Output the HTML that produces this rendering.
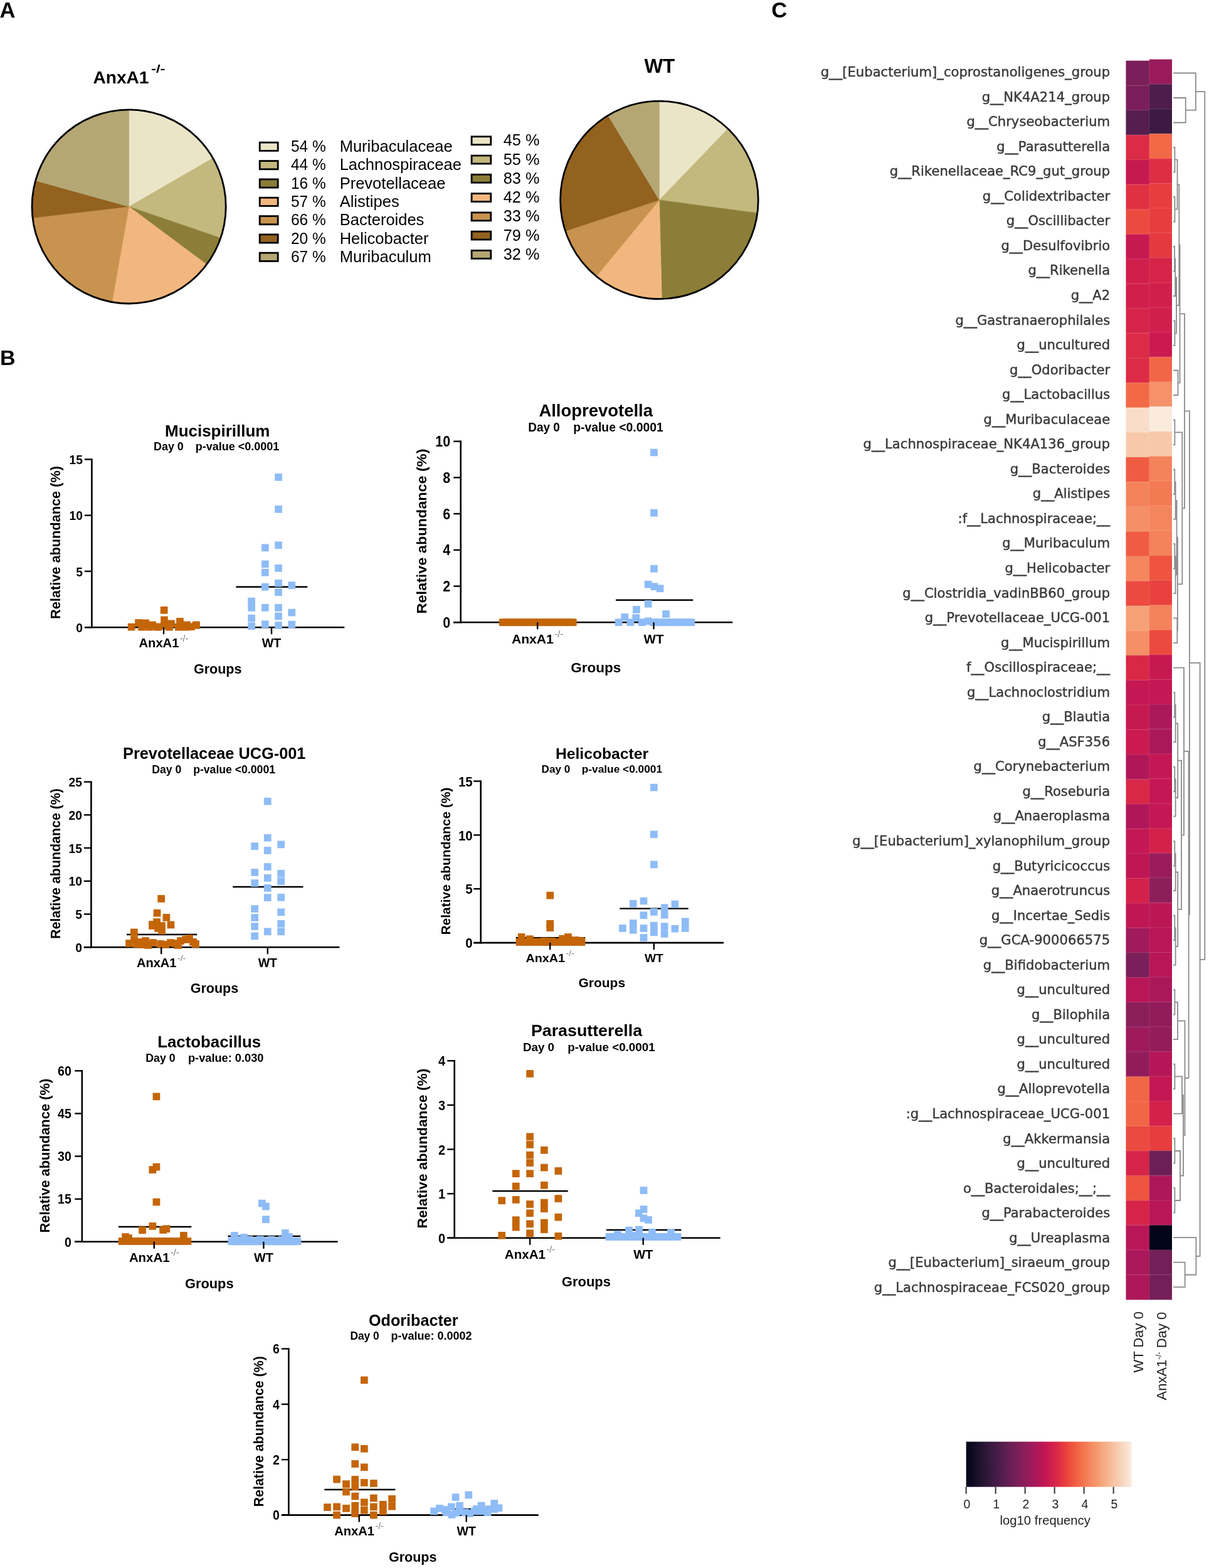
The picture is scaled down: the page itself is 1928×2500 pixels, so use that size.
<!DOCTYPE html>
<html><head><meta charset="utf-8"><title>Figure</title>
<style>html,body{margin:0;padding:0;background:#fff;}svg{display:block;}</style></head>
<body><svg width="1928" height="2500" viewBox="0 0 1928 2500">
<rect width="1928" height="2500" fill="#fff"/>
<text x="-0.6" y="27.9" font-size="34.50" font-weight="bold" text-anchor="start" fill="#000" font-family="'Liberation Sans', Arial, sans-serif">A</text>
<text x="0.1" y="581.8" font-size="34.00" font-weight="bold" text-anchor="start" fill="#000" font-family="'Liberation Sans', Arial, sans-serif">B</text>
<text x="1230.3" y="28.1" font-size="34.50" font-weight="bold" text-anchor="start" fill="#000" font-family="'Liberation Sans', Arial, sans-serif">C</text>
<path d="M205.60 329.40 L205.60 174.80 A154.60 154.60 0 0 1 339.49 252.10 Z" fill="#ebe5c8" stroke="#ebe5c8" stroke-width="0.6"/>
<path d="M205.60 329.40 L339.49 252.10 A154.60 154.60 0 0 1 351.87 379.45 Z" fill="#c3b87d" stroke="#c3b87d" stroke-width="0.6"/>
<path d="M205.60 329.40 L351.87 379.45 A154.60 154.60 0 0 1 329.61 421.72 Z" fill="#8c7e38" stroke="#8c7e38" stroke-width="0.6"/>
<path d="M205.60 329.40 L329.61 421.72 A154.60 154.60 0 0 1 178.75 481.65 Z" fill="#f2b77e" stroke="#f2b77e" stroke-width="0.6"/>
<path d="M205.60 329.40 L178.75 481.65 A154.60 154.60 0 0 1 52.05 347.35 Z" fill="#c8934f" stroke="#c8934f" stroke-width="0.6"/>
<path d="M205.60 329.40 L52.05 347.35 A154.60 154.60 0 0 1 56.66 287.94 Z" fill="#93621f" stroke="#93621f" stroke-width="0.6"/>
<path d="M205.60 329.40 L56.66 287.94 A154.60 154.60 0 0 1 205.60 174.80 Z" fill="#b4a774" stroke="#b4a774" stroke-width="0.6"/>
<circle cx="205.60" cy="329.40" r="154.60" fill="none" stroke="#000" stroke-width="2.8"/>
<path d="M1051.40 318.90 L1051.40 161.10 A157.80 157.80 0 0 1 1160.82 205.20 Z" fill="#ebe5c8" stroke="#ebe5c8" stroke-width="0.6"/>
<path d="M1051.40 318.90 L1160.82 205.20 A157.80 157.80 0 0 1 1207.83 339.66 Z" fill="#c3b87d" stroke="#c3b87d" stroke-width="0.6"/>
<path d="M1051.40 318.90 L1207.83 339.66 A157.80 157.80 0 0 1 1055.43 476.65 Z" fill="#8c7e38" stroke="#8c7e38" stroke-width="0.6"/>
<path d="M1051.40 318.90 L1055.43 476.65 A157.80 157.80 0 0 1 951.00 440.64 Z" fill="#f2b77e" stroke="#f2b77e" stroke-width="0.6"/>
<path d="M1051.40 318.90 L951.00 440.64 A157.80 157.80 0 0 1 901.57 368.43 Z" fill="#c8934f" stroke="#c8934f" stroke-width="0.6"/>
<path d="M1051.40 318.90 L901.57 368.43 A157.80 157.80 0 0 1 969.61 183.95 Z" fill="#93621f" stroke="#93621f" stroke-width="0.6"/>
<path d="M1051.40 318.90 L969.61 183.95 A157.80 157.80 0 0 1 1051.40 161.10 Z" fill="#b4a774" stroke="#b4a774" stroke-width="0.6"/>
<circle cx="1051.40" cy="318.90" r="157.80" fill="none" stroke="#000" stroke-width="2.8"/>
<text x="148.5" y="133" font-size="28" font-weight="bold" font-family="'Liberation Sans', Arial, sans-serif" textLength="89" lengthAdjust="spacingAndGlyphs">AnxA1</text>
<text x="241.0" y="116.3" font-size="18.00" font-weight="bold" text-anchor="start" fill="#000" font-family="'Liberation Sans', Arial, sans-serif" textLength="22.5" lengthAdjust="spacingAndGlyphs">-/-</text>
<text x="1051.8" y="116.4" font-size="30.50" font-weight="bold" text-anchor="middle" fill="#000" font-family="'Liberation Sans', Arial, sans-serif" textLength="48.8" lengthAdjust="spacingAndGlyphs">WT</text>
<rect x="414.2" y="227.2" width="29.0" height="13.2" fill="#ebe5c8" stroke="#000" stroke-width="2.8"/>
<text x="464.0" y="242.1" font-size="25.80" font-weight="normal" text-anchor="start" fill="#000" font-family="'Liberation Sans', Arial, sans-serif" textLength="55.7" lengthAdjust="spacingAndGlyphs">54 %</text>
<text x="541.7" y="242.1" font-size="25.50" font-weight="normal" text-anchor="start" fill="#000" font-family="'Liberation Sans', Arial, sans-serif">Muribaculaceae</text>
<rect x="752.1" y="217.8" width="30.7" height="12.9" fill="#ebe5c8" stroke="#000" stroke-width="2.8"/>
<text x="802.8" y="232.2" font-size="25.80" font-weight="normal" text-anchor="start" fill="#000" font-family="'Liberation Sans', Arial, sans-serif" textLength="57.6" lengthAdjust="spacingAndGlyphs">45 %</text>
<rect x="414.2" y="256.6" width="29.0" height="13.2" fill="#c3b87d" stroke="#000" stroke-width="2.8"/>
<text x="464.0" y="271.4" font-size="25.80" font-weight="normal" text-anchor="start" fill="#000" font-family="'Liberation Sans', Arial, sans-serif" textLength="55.7" lengthAdjust="spacingAndGlyphs">44 %</text>
<text x="541.7" y="271.4" font-size="25.50" font-weight="normal" text-anchor="start" fill="#000" font-family="'Liberation Sans', Arial, sans-serif">Lachnospiraceae</text>
<rect x="752.1" y="248.1" width="30.7" height="12.9" fill="#c3b87d" stroke="#000" stroke-width="2.8"/>
<text x="802.8" y="262.5" font-size="25.80" font-weight="normal" text-anchor="start" fill="#000" font-family="'Liberation Sans', Arial, sans-serif" textLength="57.6" lengthAdjust="spacingAndGlyphs">55 %</text>
<rect x="414.2" y="285.9" width="29.0" height="13.2" fill="#8c7e38" stroke="#000" stroke-width="2.8"/>
<text x="464.0" y="300.8" font-size="25.80" font-weight="normal" text-anchor="start" fill="#000" font-family="'Liberation Sans', Arial, sans-serif" textLength="55.7" lengthAdjust="spacingAndGlyphs">16 %</text>
<text x="541.7" y="300.8" font-size="25.50" font-weight="normal" text-anchor="start" fill="#000" font-family="'Liberation Sans', Arial, sans-serif">Prevotellaceae</text>
<rect x="752.1" y="278.3" width="30.7" height="12.9" fill="#8c7e38" stroke="#000" stroke-width="2.8"/>
<text x="802.8" y="292.7" font-size="25.80" font-weight="normal" text-anchor="start" fill="#000" font-family="'Liberation Sans', Arial, sans-serif" textLength="57.6" lengthAdjust="spacingAndGlyphs">83 %</text>
<rect x="414.2" y="315.2" width="29.0" height="13.2" fill="#f2b77e" stroke="#000" stroke-width="2.8"/>
<text x="464.0" y="330.1" font-size="25.80" font-weight="normal" text-anchor="start" fill="#000" font-family="'Liberation Sans', Arial, sans-serif" textLength="55.7" lengthAdjust="spacingAndGlyphs">57 %</text>
<text x="541.7" y="330.1" font-size="25.50" font-weight="normal" text-anchor="start" fill="#000" font-family="'Liberation Sans', Arial, sans-serif">Alistipes</text>
<rect x="752.1" y="308.6" width="30.7" height="12.9" fill="#f2b77e" stroke="#000" stroke-width="2.8"/>
<text x="802.8" y="323.0" font-size="25.80" font-weight="normal" text-anchor="start" fill="#000" font-family="'Liberation Sans', Arial, sans-serif" textLength="57.6" lengthAdjust="spacingAndGlyphs">42 %</text>
<rect x="414.2" y="344.6" width="29.0" height="13.2" fill="#c8934f" stroke="#000" stroke-width="2.8"/>
<text x="464.0" y="359.4" font-size="25.80" font-weight="normal" text-anchor="start" fill="#000" font-family="'Liberation Sans', Arial, sans-serif" textLength="55.7" lengthAdjust="spacingAndGlyphs">66 %</text>
<text x="541.7" y="359.4" font-size="25.50" font-weight="normal" text-anchor="start" fill="#000" font-family="'Liberation Sans', Arial, sans-serif">Bacteroides</text>
<rect x="752.1" y="338.9" width="30.7" height="12.9" fill="#c8934f" stroke="#000" stroke-width="2.8"/>
<text x="802.8" y="353.3" font-size="25.80" font-weight="normal" text-anchor="start" fill="#000" font-family="'Liberation Sans', Arial, sans-serif" textLength="57.6" lengthAdjust="spacingAndGlyphs">33 %</text>
<rect x="414.2" y="373.9" width="29.0" height="13.2" fill="#93621f" stroke="#000" stroke-width="2.8"/>
<text x="464.0" y="388.8" font-size="25.80" font-weight="normal" text-anchor="start" fill="#000" font-family="'Liberation Sans', Arial, sans-serif" textLength="55.7" lengthAdjust="spacingAndGlyphs">20 %</text>
<text x="541.7" y="388.8" font-size="25.50" font-weight="normal" text-anchor="start" fill="#000" font-family="'Liberation Sans', Arial, sans-serif">Helicobacter</text>
<rect x="752.1" y="369.1" width="30.7" height="12.9" fill="#93621f" stroke="#000" stroke-width="2.8"/>
<text x="802.8" y="383.5" font-size="25.80" font-weight="normal" text-anchor="start" fill="#000" font-family="'Liberation Sans', Arial, sans-serif" textLength="57.6" lengthAdjust="spacingAndGlyphs">79 %</text>
<rect x="414.2" y="403.2" width="29.0" height="13.2" fill="#b4a774" stroke="#000" stroke-width="2.8"/>
<text x="464.0" y="418.1" font-size="25.80" font-weight="normal" text-anchor="start" fill="#000" font-family="'Liberation Sans', Arial, sans-serif" textLength="55.7" lengthAdjust="spacingAndGlyphs">67 %</text>
<text x="541.7" y="418.1" font-size="25.50" font-weight="normal" text-anchor="start" fill="#000" font-family="'Liberation Sans', Arial, sans-serif">Muribaculum</text>
<rect x="752.1" y="399.4" width="30.7" height="12.9" fill="#b4a774" stroke="#000" stroke-width="2.8"/>
<text x="802.8" y="413.8" font-size="25.80" font-weight="normal" text-anchor="start" fill="#000" font-family="'Liberation Sans', Arial, sans-serif" textLength="57.6" lengthAdjust="spacingAndGlyphs">32 %</text>
<text x="346.7" y="695.7" font-size="25.50" font-weight="bold" text-anchor="middle" fill="#000" font-family="'Liberation Sans', Arial, sans-serif" textLength="167.4" lengthAdjust="spacingAndGlyphs">Mucispirillum</text>
<text x="245.0" y="718.1" font-size="18.00" font-weight="bold" text-anchor="start" fill="#000" font-family="'Liberation Sans', Arial, sans-serif" textLength="47.8" lengthAdjust="spacingAndGlyphs">Day 0</text>
<text x="311.7" y="718.1" font-size="18.00" font-weight="bold" text-anchor="start" fill="#000" font-family="'Liberation Sans', Arial, sans-serif" textLength="133.6" lengthAdjust="spacingAndGlyphs">p-value &lt;0.0001</text>
<path d="M146.4 1001.5 V731.2" stroke="#000" stroke-width="2.6" fill="none"/>
<path d="M134.9 1000.2 H549.3" stroke="#000" stroke-width="2.6" fill="none"/>
<line x1="376.4" y1="935.8" x2="490.3" y2="935.8" stroke="#000" stroke-width="2.4"/>
<line x1="205.0" y1="996.0" x2="318.0" y2="996.0" stroke="#000" stroke-width="2.4"/>
<rect x="395.3" y="952.9" width="11.7" height="11.7" fill="#8ebcf6"/>
<rect x="395.3" y="963.1" width="11.7" height="11.7" fill="#8ebcf6"/>
<rect x="395.3" y="979.8" width="11.7" height="11.7" fill="#8ebcf6"/>
<rect x="395.3" y="992.4" width="11.7" height="11.7" fill="#8ebcf6"/>
<rect x="417.0" y="867.4" width="11.7" height="11.7" fill="#8ebcf6"/>
<rect x="417.0" y="893.6" width="11.7" height="11.7" fill="#8ebcf6"/>
<rect x="417.0" y="906.9" width="11.7" height="11.7" fill="#8ebcf6"/>
<rect x="417.0" y="929.9" width="11.7" height="11.7" fill="#8ebcf6"/>
<rect x="417.0" y="963.1" width="11.7" height="11.7" fill="#8ebcf6"/>
<rect x="417.0" y="989.4" width="11.7" height="11.7" fill="#8ebcf6"/>
<rect x="438.2" y="755.0" width="11.7" height="11.7" fill="#8ebcf6"/>
<rect x="438.2" y="806.0" width="11.7" height="11.7" fill="#8ebcf6"/>
<rect x="438.2" y="863.5" width="11.7" height="11.7" fill="#8ebcf6"/>
<rect x="438.2" y="900.0" width="11.7" height="11.7" fill="#8ebcf6"/>
<rect x="438.2" y="924.0" width="11.7" height="11.7" fill="#8ebcf6"/>
<rect x="438.2" y="938.4" width="11.7" height="11.7" fill="#8ebcf6"/>
<rect x="438.2" y="963.1" width="11.7" height="11.7" fill="#8ebcf6"/>
<rect x="438.2" y="976.6" width="11.7" height="11.7" fill="#8ebcf6"/>
<rect x="438.2" y="991.1" width="11.7" height="11.7" fill="#8ebcf6"/>
<rect x="459.4" y="927.4" width="11.7" height="11.7" fill="#8ebcf6"/>
<rect x="459.4" y="970.8" width="11.7" height="11.7" fill="#8ebcf6"/>
<rect x="459.4" y="989.9" width="11.7" height="11.7" fill="#8ebcf6"/>
<rect x="203.8" y="993.8" width="11.7" height="11.7" fill="#c46507"/>
<rect x="215.2" y="987.1" width="11.7" height="11.7" fill="#c46507"/>
<rect x="226.2" y="987.6" width="11.7" height="11.7" fill="#c46507"/>
<rect x="237.2" y="990.6" width="11.7" height="11.7" fill="#c46507"/>
<rect x="220.2" y="993.9" width="11.7" height="11.7" fill="#c46507"/>
<rect x="232.2" y="993.9" width="11.7" height="11.7" fill="#c46507"/>
<rect x="244.2" y="993.6" width="11.7" height="11.7" fill="#c46507"/>
<rect x="246.2" y="993.9" width="11.7" height="11.7" fill="#c46507"/>
<rect x="256.1" y="982.6" width="11.7" height="11.7" fill="#c46507"/>
<rect x="256.1" y="992.1" width="11.7" height="11.7" fill="#c46507"/>
<rect x="267.1" y="988.6" width="11.7" height="11.7" fill="#c46507"/>
<rect x="264.1" y="993.9" width="11.7" height="11.7" fill="#c46507"/>
<rect x="281.1" y="985.1" width="11.7" height="11.7" fill="#c46507"/>
<rect x="279.1" y="993.9" width="11.7" height="11.7" fill="#c46507"/>
<rect x="290.1" y="993.9" width="11.7" height="11.7" fill="#c46507"/>
<rect x="292.1" y="990.6" width="11.7" height="11.7" fill="#c46507"/>
<rect x="299.1" y="993.4" width="11.7" height="11.7" fill="#c46507"/>
<rect x="307.1" y="991.1" width="11.7" height="11.7" fill="#c46507"/>
<rect x="306.8" y="990.6" width="11.7" height="11.7" fill="#c46507"/>
<rect x="255.8" y="967.0" width="11.7" height="11.7" fill="#c46507"/>
<path d="M134.9 1000.2 H146.4" stroke="#000" stroke-width="2.4" fill="none"/>
<text transform="translate(131.9 1007.8) scale(1 1.100)" font-size="19.20" font-weight="bold" text-anchor="end" font-family="'Liberation Sans', Arial, sans-serif">0</text>
<path d="M134.9 910.9 H146.4" stroke="#000" stroke-width="2.4" fill="none"/>
<text transform="translate(131.9 918.5) scale(1 1.100)" font-size="19.20" font-weight="bold" text-anchor="end" font-family="'Liberation Sans', Arial, sans-serif">5</text>
<path d="M134.9 821.7 H146.4" stroke="#000" stroke-width="2.4" fill="none"/>
<text transform="translate(131.9 829.3) scale(1 1.100)" font-size="19.20" font-weight="bold" text-anchor="end" font-family="'Liberation Sans', Arial, sans-serif">10</text>
<path d="M134.9 732.4 H146.4" stroke="#000" stroke-width="2.4" fill="none"/>
<text transform="translate(131.9 740.0) scale(1 1.100)" font-size="19.20" font-weight="bold" text-anchor="end" font-family="'Liberation Sans', Arial, sans-serif">15</text>
<path d="M261.0 1000.2 V1011.2" stroke="#000" stroke-width="2.4" fill="none"/>
<path d="M433.0 1000.2 V1011.2" stroke="#000" stroke-width="2.4" fill="none"/>
<text x="221.5" y="1032.4" font-size="19.60" font-weight="bold" text-anchor="start" fill="#000" font-family="'Liberation Sans', Arial, sans-serif" textLength="63.9" lengthAdjust="spacingAndGlyphs">AnxA1</text>
<text x="286.9" y="1022.6" font-size="13.72" font-weight="normal" text-anchor="start" fill="#777" font-family="'Liberation Sans', Arial, sans-serif" textLength="13.4" lengthAdjust="spacingAndGlyphs">-/-</text>
<text x="433.0" y="1032.4" font-size="19.60" font-weight="bold" text-anchor="middle" fill="#000" font-family="'Liberation Sans', Arial, sans-serif">WT</text>
<text x="347.2" y="1074.4" font-size="21.50" font-weight="bold" text-anchor="middle" fill="#000" font-family="'Liberation Sans', Arial, sans-serif">Groups</text>
<text transform="translate(96.4 865.0) rotate(-90)" x="0" y="0" font-size="21.6" font-weight="bold" text-anchor="middle" font-family="'Liberation Sans', Arial, sans-serif" textLength="244.0" lengthAdjust="spacingAndGlyphs">Relative abundance (%)</text>
<text x="950.2" y="663.5" font-size="27.00" font-weight="bold" text-anchor="middle" fill="#000" font-family="'Liberation Sans', Arial, sans-serif" textLength="181.6" lengthAdjust="spacingAndGlyphs">Alloprevotella</text>
<text x="842.3" y="687.7" font-size="19.30" font-weight="bold" text-anchor="start" fill="#000" font-family="'Liberation Sans', Arial, sans-serif" textLength="50.6" lengthAdjust="spacingAndGlyphs">Day 0</text>
<text x="914.2" y="687.7" font-size="19.30" font-weight="bold" text-anchor="start" fill="#000" font-family="'Liberation Sans', Arial, sans-serif" textLength="143.6" lengthAdjust="spacingAndGlyphs">p-value &lt;0.0001</text>
<path d="M734.7 993.6 V702.5" stroke="#000" stroke-width="2.6" fill="none"/>
<path d="M723.2 992.3 H1168.3" stroke="#000" stroke-width="2.6" fill="none"/>
<line x1="982.0" y1="956.7" x2="1105.2" y2="956.7" stroke="#000" stroke-width="2.4"/>
<rect x="1037.1" y="715.6" width="11.7" height="11.7" fill="#8ebcf6"/>
<rect x="1037.1" y="811.9" width="11.7" height="11.7" fill="#8ebcf6"/>
<rect x="1037.1" y="900.9" width="11.7" height="11.7" fill="#8ebcf6"/>
<rect x="1027.8" y="925.9" width="11.7" height="11.7" fill="#8ebcf6"/>
<rect x="1037.8" y="929.4" width="11.7" height="11.7" fill="#8ebcf6"/>
<rect x="1046.7" y="932.4" width="11.7" height="11.7" fill="#8ebcf6"/>
<rect x="1027.8" y="956.9" width="11.7" height="11.7" fill="#8ebcf6"/>
<rect x="1009.1" y="966.1" width="11.7" height="11.7" fill="#8ebcf6"/>
<rect x="1056.2" y="973.2" width="11.7" height="11.7" fill="#8ebcf6"/>
<rect x="990.4" y="978.2" width="11.7" height="11.7" fill="#8ebcf6"/>
<rect x="1008.4" y="979.4" width="11.7" height="11.7" fill="#8ebcf6"/>
<rect x="980.8" y="986.4" width="11.7" height="11.7" fill="#8ebcf6"/>
<rect x="999.6" y="986.4" width="11.7" height="11.7" fill="#8ebcf6"/>
<rect x="1018.1" y="986.4" width="11.7" height="11.7" fill="#8ebcf6"/>
<rect x="1027.8" y="984.6" width="11.7" height="11.7" fill="#8ebcf6"/>
<rect x="1036.0" y="986.4" width="11.7" height="11.7" fill="#8ebcf6"/>
<rect x="1041.5" y="986.4" width="11.7" height="11.7" fill="#8ebcf6"/>
<rect x="1047.0" y="986.4" width="11.7" height="11.7" fill="#8ebcf6"/>
<rect x="1052.5" y="986.4" width="11.7" height="11.7" fill="#8ebcf6"/>
<rect x="1058.0" y="986.4" width="11.7" height="11.7" fill="#8ebcf6"/>
<rect x="1063.5" y="986.4" width="11.7" height="11.7" fill="#8ebcf6"/>
<rect x="1069.0" y="986.4" width="11.7" height="11.7" fill="#8ebcf6"/>
<rect x="1074.5" y="986.4" width="11.7" height="11.7" fill="#8ebcf6"/>
<rect x="1080.0" y="986.4" width="11.7" height="11.7" fill="#8ebcf6"/>
<rect x="1085.5" y="986.4" width="11.7" height="11.7" fill="#8ebcf6"/>
<rect x="1091.0" y="986.4" width="11.7" height="11.7" fill="#8ebcf6"/>
<rect x="1096.6" y="986.4" width="11.7" height="11.7" fill="#8ebcf6"/>
<rect x="795.9" y="986.4" width="11.7" height="11.7" fill="#c46507"/>
<rect x="800.8" y="986.4" width="11.7" height="11.7" fill="#c46507"/>
<rect x="805.7" y="986.4" width="11.7" height="11.7" fill="#c46507"/>
<rect x="810.6" y="986.4" width="11.7" height="11.7" fill="#c46507"/>
<rect x="815.4" y="986.4" width="11.7" height="11.7" fill="#c46507"/>
<rect x="820.3" y="986.4" width="11.7" height="11.7" fill="#c46507"/>
<rect x="825.2" y="986.4" width="11.7" height="11.7" fill="#c46507"/>
<rect x="830.0" y="986.4" width="11.7" height="11.7" fill="#c46507"/>
<rect x="834.9" y="986.4" width="11.7" height="11.7" fill="#c46507"/>
<rect x="839.8" y="986.4" width="11.7" height="11.7" fill="#c46507"/>
<rect x="844.6" y="986.4" width="11.7" height="11.7" fill="#c46507"/>
<rect x="849.5" y="986.4" width="11.7" height="11.7" fill="#c46507"/>
<rect x="854.4" y="986.4" width="11.7" height="11.7" fill="#c46507"/>
<rect x="859.3" y="986.4" width="11.7" height="11.7" fill="#c46507"/>
<rect x="864.1" y="986.4" width="11.7" height="11.7" fill="#c46507"/>
<rect x="869.0" y="986.4" width="11.7" height="11.7" fill="#c46507"/>
<rect x="873.9" y="986.4" width="11.7" height="11.7" fill="#c46507"/>
<rect x="878.7" y="986.4" width="11.7" height="11.7" fill="#c46507"/>
<rect x="883.6" y="986.4" width="11.7" height="11.7" fill="#c46507"/>
<rect x="888.5" y="986.4" width="11.7" height="11.7" fill="#c46507"/>
<rect x="893.3" y="986.4" width="11.7" height="11.7" fill="#c46507"/>
<rect x="898.2" y="986.4" width="11.7" height="11.7" fill="#c46507"/>
<rect x="903.1" y="986.4" width="11.7" height="11.7" fill="#c46507"/>
<rect x="907.9" y="986.4" width="11.7" height="11.7" fill="#c46507"/>
<path d="M723.2 992.3 H734.7" stroke="#000" stroke-width="2.4" fill="none"/>
<text transform="translate(718.1 1000.8) scale(1 1.100)" font-size="21.50" font-weight="bold" text-anchor="end" font-family="'Liberation Sans', Arial, sans-serif">0</text>
<path d="M723.2 934.6 H734.7" stroke="#000" stroke-width="2.4" fill="none"/>
<text transform="translate(718.1 943.1) scale(1 1.100)" font-size="21.50" font-weight="bold" text-anchor="end" font-family="'Liberation Sans', Arial, sans-serif">2</text>
<path d="M723.2 876.9 H734.7" stroke="#000" stroke-width="2.4" fill="none"/>
<text transform="translate(718.1 885.4) scale(1 1.100)" font-size="21.50" font-weight="bold" text-anchor="end" font-family="'Liberation Sans', Arial, sans-serif">4</text>
<path d="M723.2 819.1 H734.7" stroke="#000" stroke-width="2.4" fill="none"/>
<text transform="translate(718.1 827.7) scale(1 1.100)" font-size="21.50" font-weight="bold" text-anchor="end" font-family="'Liberation Sans', Arial, sans-serif">6</text>
<path d="M723.2 761.4 H734.7" stroke="#000" stroke-width="2.4" fill="none"/>
<text transform="translate(718.1 769.9) scale(1 1.100)" font-size="21.50" font-weight="bold" text-anchor="end" font-family="'Liberation Sans', Arial, sans-serif">8</text>
<path d="M723.2 703.7 H734.7" stroke="#000" stroke-width="2.4" fill="none"/>
<text transform="translate(718.1 712.2) scale(1 1.100)" font-size="21.50" font-weight="bold" text-anchor="end" font-family="'Liberation Sans', Arial, sans-serif">10</text>
<path d="M857.2 992.3 V1003.3" stroke="#000" stroke-width="2.4" fill="none"/>
<path d="M1042.5 992.3 V1003.3" stroke="#000" stroke-width="2.4" fill="none"/>
<text x="815.9" y="1026.0" font-size="20.50" font-weight="bold" text-anchor="start" fill="#000" font-family="'Liberation Sans', Arial, sans-serif" textLength="66.9" lengthAdjust="spacingAndGlyphs">AnxA1</text>
<text x="884.3" y="1015.8" font-size="14.35" font-weight="normal" text-anchor="start" fill="#777" font-family="'Liberation Sans', Arial, sans-serif" textLength="14.0" lengthAdjust="spacingAndGlyphs">-/-</text>
<text x="1042.5" y="1026.0" font-size="20.50" font-weight="bold" text-anchor="middle" fill="#000" font-family="'Liberation Sans', Arial, sans-serif">WT</text>
<text x="950.2" y="1071.7" font-size="22.50" font-weight="bold" text-anchor="middle" fill="#000" font-family="'Liberation Sans', Arial, sans-serif">Groups</text>
<text transform="translate(680.2 847.0) rotate(-90)" x="0" y="0" font-size="21.8" font-weight="bold" text-anchor="middle" font-family="'Liberation Sans', Arial, sans-serif" textLength="263.0" lengthAdjust="spacingAndGlyphs">Relative abundance (%)</text>
<text x="341.7" y="1210.3" font-size="25.30" font-weight="bold" text-anchor="middle" fill="#000" font-family="'Liberation Sans', Arial, sans-serif" textLength="291.4" lengthAdjust="spacingAndGlyphs">Prevotellaceae UCG-001</text>
<text x="242.3" y="1233.0" font-size="17.60" font-weight="bold" text-anchor="start" fill="#000" font-family="'Liberation Sans', Arial, sans-serif" textLength="47.0" lengthAdjust="spacingAndGlyphs">Day 0</text>
<text x="308.2" y="1233.0" font-size="17.60" font-weight="bold" text-anchor="start" fill="#000" font-family="'Liberation Sans', Arial, sans-serif" textLength="130.8" lengthAdjust="spacingAndGlyphs">p-value &lt;0.0001</text>
<path d="M145.4 1511.5 V1245.4" stroke="#000" stroke-width="2.6" fill="none"/>
<path d="M133.9 1510.2 H541.5" stroke="#000" stroke-width="2.6" fill="none"/>
<line x1="202.0" y1="1490.0" x2="314.2" y2="1490.0" stroke="#000" stroke-width="2.4"/>
<line x1="371.2" y1="1414.0" x2="483.5" y2="1414.0" stroke="#000" stroke-width="2.4"/>
<rect x="400.3" y="1343.4" width="11.7" height="11.7" fill="#8ebcf6"/>
<rect x="400.3" y="1385.1" width="11.7" height="11.7" fill="#8ebcf6"/>
<rect x="400.3" y="1402.2" width="11.7" height="11.7" fill="#8ebcf6"/>
<rect x="400.3" y="1443.2" width="11.7" height="11.7" fill="#8ebcf6"/>
<rect x="400.3" y="1457.2" width="11.7" height="11.7" fill="#8ebcf6"/>
<rect x="400.3" y="1471.2" width="11.7" height="11.7" fill="#8ebcf6"/>
<rect x="400.3" y="1486.6" width="11.7" height="11.7" fill="#8ebcf6"/>
<rect x="420.9" y="1271.8" width="11.7" height="11.7" fill="#8ebcf6"/>
<rect x="420.9" y="1329.9" width="11.7" height="11.7" fill="#8ebcf6"/>
<rect x="420.9" y="1350.2" width="11.7" height="11.7" fill="#8ebcf6"/>
<rect x="420.9" y="1376.2" width="11.7" height="11.7" fill="#8ebcf6"/>
<rect x="420.9" y="1394.0" width="11.7" height="11.7" fill="#8ebcf6"/>
<rect x="420.9" y="1410.0" width="11.7" height="11.7" fill="#8ebcf6"/>
<rect x="420.9" y="1425.2" width="11.7" height="11.7" fill="#8ebcf6"/>
<rect x="420.9" y="1479.5" width="11.7" height="11.7" fill="#8ebcf6"/>
<rect x="442.3" y="1340.6" width="11.7" height="11.7" fill="#8ebcf6"/>
<rect x="442.3" y="1386.9" width="11.7" height="11.7" fill="#8ebcf6"/>
<rect x="442.3" y="1399.2" width="11.7" height="11.7" fill="#8ebcf6"/>
<rect x="442.3" y="1425.0" width="11.7" height="11.7" fill="#8ebcf6"/>
<rect x="442.3" y="1448.5" width="11.7" height="11.7" fill="#8ebcf6"/>
<rect x="442.3" y="1467.0" width="11.7" height="11.7" fill="#8ebcf6"/>
<rect x="442.3" y="1479.5" width="11.7" height="11.7" fill="#8ebcf6"/>
<rect x="251.3" y="1427.1" width="11.7" height="11.7" fill="#c46507"/>
<rect x="244.7" y="1449.9" width="11.7" height="11.7" fill="#c46507"/>
<rect x="259.5" y="1457.1" width="11.7" height="11.7" fill="#c46507"/>
<rect x="237.2" y="1468.2" width="11.7" height="11.7" fill="#c46507"/>
<rect x="244.2" y="1464.2" width="11.7" height="11.7" fill="#c46507"/>
<rect x="252.2" y="1470.2" width="11.7" height="11.7" fill="#c46507"/>
<rect x="266.6" y="1468.7" width="11.7" height="11.7" fill="#c46507"/>
<rect x="237.2" y="1470.2" width="11.7" height="11.7" fill="#c46507"/>
<rect x="252.2" y="1478.2" width="11.7" height="11.7" fill="#c46507"/>
<rect x="246.2" y="1474.2" width="11.7" height="11.7" fill="#c46507"/>
<rect x="208.0" y="1480.6" width="11.7" height="11.7" fill="#c46507"/>
<rect x="208.2" y="1492.2" width="11.7" height="11.7" fill="#c46507"/>
<rect x="216.2" y="1496.2" width="11.7" height="11.7" fill="#c46507"/>
<rect x="226.2" y="1494.2" width="11.7" height="11.7" fill="#c46507"/>
<rect x="200.2" y="1498.2" width="11.7" height="11.7" fill="#c46507"/>
<rect x="230.2" y="1501.2" width="11.7" height="11.7" fill="#c46507"/>
<rect x="238.2" y="1497.2" width="11.7" height="11.7" fill="#c46507"/>
<rect x="250.2" y="1499.2" width="11.7" height="11.7" fill="#c46507"/>
<rect x="258.1" y="1500.2" width="11.7" height="11.7" fill="#c46507"/>
<rect x="266.1" y="1497.2" width="11.7" height="11.7" fill="#c46507"/>
<rect x="274.1" y="1498.2" width="11.7" height="11.7" fill="#c46507"/>
<rect x="282.1" y="1494.2" width="11.7" height="11.7" fill="#c46507"/>
<rect x="290.1" y="1492.2" width="11.7" height="11.7" fill="#c46507"/>
<rect x="296.1" y="1490.2" width="11.7" height="11.7" fill="#c46507"/>
<rect x="302.1" y="1496.2" width="11.7" height="11.7" fill="#c46507"/>
<rect x="306.1" y="1499.2" width="11.7" height="11.7" fill="#c46507"/>
<rect x="278.1" y="1501.2" width="11.7" height="11.7" fill="#c46507"/>
<rect x="220.2" y="1500.2" width="11.7" height="11.7" fill="#c46507"/>
<rect x="212.2" y="1499.2" width="11.7" height="11.7" fill="#c46507"/>
<path d="M133.9 1510.2 H145.4" stroke="#000" stroke-width="2.4" fill="none"/>
<text transform="translate(130.9 1517.8) scale(1 1.100)" font-size="19.20" font-weight="bold" text-anchor="end" font-family="'Liberation Sans', Arial, sans-serif">0</text>
<path d="M133.9 1457.5 H145.4" stroke="#000" stroke-width="2.4" fill="none"/>
<text transform="translate(130.9 1465.1) scale(1 1.100)" font-size="19.20" font-weight="bold" text-anchor="end" font-family="'Liberation Sans', Arial, sans-serif">5</text>
<path d="M133.9 1404.8 H145.4" stroke="#000" stroke-width="2.4" fill="none"/>
<text transform="translate(130.9 1412.4) scale(1 1.100)" font-size="19.20" font-weight="bold" text-anchor="end" font-family="'Liberation Sans', Arial, sans-serif">10</text>
<path d="M133.9 1352.0 H145.4" stroke="#000" stroke-width="2.4" fill="none"/>
<text transform="translate(130.9 1359.6) scale(1 1.100)" font-size="19.20" font-weight="bold" text-anchor="end" font-family="'Liberation Sans', Arial, sans-serif">15</text>
<path d="M133.9 1299.3 H145.4" stroke="#000" stroke-width="2.4" fill="none"/>
<text transform="translate(130.9 1306.9) scale(1 1.100)" font-size="19.20" font-weight="bold" text-anchor="end" font-family="'Liberation Sans', Arial, sans-serif">20</text>
<path d="M133.9 1246.6 H145.4" stroke="#000" stroke-width="2.4" fill="none"/>
<text transform="translate(130.9 1254.2) scale(1 1.100)" font-size="19.20" font-weight="bold" text-anchor="end" font-family="'Liberation Sans', Arial, sans-serif">25</text>
<path d="M257.2 1510.2 V1521.2" stroke="#000" stroke-width="2.4" fill="none"/>
<path d="M426.8 1510.2 V1521.2" stroke="#000" stroke-width="2.4" fill="none"/>
<text x="217.9" y="1541.6" font-size="19.50" font-weight="bold" text-anchor="start" fill="#000" font-family="'Liberation Sans', Arial, sans-serif" textLength="63.6" lengthAdjust="spacingAndGlyphs">AnxA1</text>
<text x="283.0" y="1531.8" font-size="13.65" font-weight="normal" text-anchor="start" fill="#777" font-family="'Liberation Sans', Arial, sans-serif" textLength="13.3" lengthAdjust="spacingAndGlyphs">-/-</text>
<text x="426.8" y="1541.6" font-size="19.50" font-weight="bold" text-anchor="middle" fill="#000" font-family="'Liberation Sans', Arial, sans-serif">WT</text>
<text x="342.0" y="1583.3" font-size="21.50" font-weight="bold" text-anchor="middle" fill="#000" font-family="'Liberation Sans', Arial, sans-serif">Groups</text>
<text transform="translate(96.3 1377.0) rotate(-90)" x="0" y="0" font-size="21.4" font-weight="bold" text-anchor="middle" font-family="'Liberation Sans', Arial, sans-serif" textLength="240.0" lengthAdjust="spacingAndGlyphs">Relative abundance (%)</text>
<text x="960.0" y="1209.9" font-size="24.70" font-weight="bold" text-anchor="middle" fill="#000" font-family="'Liberation Sans', Arial, sans-serif" textLength="148.0" lengthAdjust="spacingAndGlyphs">Helicobacter</text>
<text x="863.6" y="1232.3" font-size="17.30" font-weight="bold" text-anchor="start" fill="#000" font-family="'Liberation Sans', Arial, sans-serif" textLength="45.6" lengthAdjust="spacingAndGlyphs">Day 0</text>
<text x="927.8" y="1232.3" font-size="17.30" font-weight="bold" text-anchor="start" fill="#000" font-family="'Liberation Sans', Arial, sans-serif" textLength="128.2" lengthAdjust="spacingAndGlyphs">p-value &lt;0.0001</text>
<path d="M766.7 1504.4 V1244.3" stroke="#000" stroke-width="2.6" fill="none"/>
<path d="M755.2 1503.1 H1154.0" stroke="#000" stroke-width="2.6" fill="none"/>
<line x1="988.3" y1="1448.6" x2="1097.7" y2="1448.6" stroke="#000" stroke-width="2.4"/>
<line x1="822.7" y1="1495.3" x2="933.1" y2="1495.3" stroke="#000" stroke-width="2.4"/>
<rect x="1037.0" y="1249.7" width="11.7" height="11.7" fill="#8ebcf6"/>
<rect x="1037.0" y="1324.5" width="11.7" height="11.7" fill="#8ebcf6"/>
<rect x="1037.0" y="1372.6" width="11.7" height="11.7" fill="#8ebcf6"/>
<rect x="1003.9" y="1435.0" width="11.7" height="11.7" fill="#8ebcf6"/>
<rect x="1020.6" y="1430.7" width="11.7" height="11.7" fill="#8ebcf6"/>
<rect x="1070.5" y="1435.7" width="11.7" height="11.7" fill="#8ebcf6"/>
<rect x="1053.8" y="1441.4" width="11.7" height="11.7" fill="#8ebcf6"/>
<rect x="1037.0" y="1448.2" width="11.7" height="11.7" fill="#8ebcf6"/>
<rect x="1020.6" y="1453.5" width="11.7" height="11.7" fill="#8ebcf6"/>
<rect x="1053.8" y="1452.8" width="11.7" height="11.7" fill="#8ebcf6"/>
<rect x="1003.9" y="1466.2" width="11.7" height="11.7" fill="#8ebcf6"/>
<rect x="1003.9" y="1477.0" width="11.7" height="11.7" fill="#8ebcf6"/>
<rect x="1086.9" y="1463.5" width="11.7" height="11.7" fill="#8ebcf6"/>
<rect x="1086.9" y="1474.2" width="11.7" height="11.7" fill="#8ebcf6"/>
<rect x="987.1" y="1474.2" width="11.7" height="11.7" fill="#8ebcf6"/>
<rect x="1020.6" y="1474.2" width="11.7" height="11.7" fill="#8ebcf6"/>
<rect x="1037.0" y="1469.9" width="11.7" height="11.7" fill="#8ebcf6"/>
<rect x="1037.0" y="1480.6" width="11.7" height="11.7" fill="#8ebcf6"/>
<rect x="1053.8" y="1471.2" width="11.7" height="11.7" fill="#8ebcf6"/>
<rect x="1053.8" y="1483.1" width="11.7" height="11.7" fill="#8ebcf6"/>
<rect x="1070.5" y="1474.9" width="11.7" height="11.7" fill="#8ebcf6"/>
<rect x="1020.6" y="1489.2" width="11.7" height="11.7" fill="#8ebcf6"/>
<rect x="871.4" y="1421.8" width="11.7" height="11.7" fill="#c46507"/>
<rect x="871.4" y="1467.0" width="11.7" height="11.7" fill="#c46507"/>
<rect x="871.4" y="1473.4" width="11.7" height="11.7" fill="#c46507"/>
<rect x="822.6" y="1496.2" width="11.7" height="11.7" fill="#c46507"/>
<rect x="828.5" y="1496.2" width="11.7" height="11.7" fill="#c46507"/>
<rect x="834.3" y="1496.2" width="11.7" height="11.7" fill="#c46507"/>
<rect x="840.1" y="1496.2" width="11.7" height="11.7" fill="#c46507"/>
<rect x="845.9" y="1496.2" width="11.7" height="11.7" fill="#c46507"/>
<rect x="851.8" y="1496.2" width="11.7" height="11.7" fill="#c46507"/>
<rect x="857.6" y="1496.2" width="11.7" height="11.7" fill="#c46507"/>
<rect x="863.4" y="1496.2" width="11.7" height="11.7" fill="#c46507"/>
<rect x="869.2" y="1496.2" width="11.7" height="11.7" fill="#c46507"/>
<rect x="875.1" y="1496.2" width="11.7" height="11.7" fill="#c46507"/>
<rect x="880.9" y="1496.2" width="11.7" height="11.7" fill="#c46507"/>
<rect x="886.7" y="1496.2" width="11.7" height="11.7" fill="#c46507"/>
<rect x="892.5" y="1496.2" width="11.7" height="11.7" fill="#c46507"/>
<rect x="898.4" y="1496.2" width="11.7" height="11.7" fill="#c46507"/>
<rect x="904.2" y="1496.2" width="11.7" height="11.7" fill="#c46507"/>
<rect x="910.0" y="1496.2" width="11.7" height="11.7" fill="#c46507"/>
<rect x="915.8" y="1496.2" width="11.7" height="11.7" fill="#c46507"/>
<rect x="921.6" y="1496.2" width="11.7" height="11.7" fill="#c46507"/>
<rect x="825.8" y="1488.2" width="11.7" height="11.7" fill="#c46507"/>
<rect x="838.9" y="1491.4" width="11.7" height="11.7" fill="#c46507"/>
<rect x="851.1" y="1495.6" width="11.7" height="11.7" fill="#c46507"/>
<rect x="862.1" y="1494.8" width="11.7" height="11.7" fill="#c46507"/>
<rect x="874.1" y="1495.0" width="11.7" height="11.7" fill="#c46507"/>
<rect x="891.1" y="1491.0" width="11.7" height="11.7" fill="#c46507"/>
<rect x="900.1" y="1488.2" width="11.7" height="11.7" fill="#c46507"/>
<rect x="912.1" y="1493.2" width="11.7" height="11.7" fill="#c46507"/>
<rect x="920.1" y="1494.2" width="11.7" height="11.7" fill="#c46507"/>
<path d="M755.2 1503.1 H766.7" stroke="#000" stroke-width="2.4" fill="none"/>
<text transform="translate(753.7 1511.2) scale(1 1.100)" font-size="20.50" font-weight="bold" text-anchor="end" font-family="'Liberation Sans', Arial, sans-serif">0</text>
<path d="M755.2 1417.2 H766.7" stroke="#000" stroke-width="2.4" fill="none"/>
<text transform="translate(753.7 1425.4) scale(1 1.100)" font-size="20.50" font-weight="bold" text-anchor="end" font-family="'Liberation Sans', Arial, sans-serif">5</text>
<path d="M755.2 1331.4 H766.7" stroke="#000" stroke-width="2.4" fill="none"/>
<text transform="translate(753.7 1339.5) scale(1 1.100)" font-size="20.50" font-weight="bold" text-anchor="end" font-family="'Liberation Sans', Arial, sans-serif">10</text>
<path d="M755.2 1245.5 H766.7" stroke="#000" stroke-width="2.4" fill="none"/>
<text transform="translate(753.7 1253.6) scale(1 1.100)" font-size="20.50" font-weight="bold" text-anchor="end" font-family="'Liberation Sans', Arial, sans-serif">15</text>
<path d="M877.2 1503.1 V1514.1" stroke="#000" stroke-width="2.4" fill="none"/>
<path d="M1042.8 1503.1 V1514.1" stroke="#000" stroke-width="2.4" fill="none"/>
<text x="838.5" y="1534.0" font-size="19.20" font-weight="bold" text-anchor="start" fill="#000" font-family="'Liberation Sans', Arial, sans-serif" textLength="62.6" lengthAdjust="spacingAndGlyphs">AnxA1</text>
<text x="902.6" y="1524.4" font-size="13.44" font-weight="normal" text-anchor="start" fill="#777" font-family="'Liberation Sans', Arial, sans-serif" textLength="13.1" lengthAdjust="spacingAndGlyphs">-/-</text>
<text x="1042.8" y="1534.0" font-size="19.20" font-weight="bold" text-anchor="middle" fill="#000" font-family="'Liberation Sans', Arial, sans-serif">WT</text>
<text x="959.8" y="1574.4" font-size="21.00" font-weight="bold" text-anchor="middle" fill="#000" font-family="'Liberation Sans', Arial, sans-serif">Groups</text>
<text transform="translate(718.0 1373.0) rotate(-90)" x="0" y="0" font-size="21.0" font-weight="bold" text-anchor="middle" font-family="'Liberation Sans', Arial, sans-serif" textLength="235.1" lengthAdjust="spacingAndGlyphs">Relative abundance (%)</text>
<text x="333.7" y="1669.9" font-size="25.80" font-weight="bold" text-anchor="middle" fill="#000" font-family="'Liberation Sans', Arial, sans-serif" textLength="164.9" lengthAdjust="spacingAndGlyphs">Lactobacillus</text>
<text x="232.3" y="1693.0" font-size="18.20" font-weight="bold" text-anchor="start" fill="#000" font-family="'Liberation Sans', Arial, sans-serif" textLength="47.4" lengthAdjust="spacingAndGlyphs">Day 0</text>
<text x="300.0" y="1693.0" font-size="18.20" font-weight="bold" text-anchor="start" fill="#000" font-family="'Liberation Sans', Arial, sans-serif" textLength="120.4" lengthAdjust="spacingAndGlyphs">p-value: 0.030</text>
<path d="M130.8 1981.1 V1706.1" stroke="#000" stroke-width="2.6" fill="none"/>
<path d="M119.3 1979.8 H538.7" stroke="#000" stroke-width="2.6" fill="none"/>
<line x1="188.8" y1="1956.0" x2="305.3" y2="1956.0" stroke="#000" stroke-width="2.4"/>
<line x1="363.4" y1="1971.0" x2="479.2" y2="1971.0" stroke="#000" stroke-width="2.4"/>
<rect x="412.0" y="1912.8" width="11.7" height="11.7" fill="#8ebcf6"/>
<rect x="418.1" y="1917.7" width="11.7" height="11.7" fill="#8ebcf6"/>
<rect x="418.1" y="1938.4" width="11.7" height="11.7" fill="#8ebcf6"/>
<rect x="368.1" y="1964.2" width="11.7" height="11.7" fill="#8ebcf6"/>
<rect x="383.1" y="1967.2" width="11.7" height="11.7" fill="#8ebcf6"/>
<rect x="449.1" y="1960.2" width="11.7" height="11.7" fill="#8ebcf6"/>
<rect x="455.1" y="1966.2" width="11.7" height="11.7" fill="#8ebcf6"/>
<rect x="363.6" y="1973.5" width="11.7" height="11.7" fill="#8ebcf6"/>
<rect x="370.6" y="1973.5" width="11.7" height="11.7" fill="#8ebcf6"/>
<rect x="377.6" y="1973.5" width="11.7" height="11.7" fill="#8ebcf6"/>
<rect x="384.6" y="1973.5" width="11.7" height="11.7" fill="#8ebcf6"/>
<rect x="391.6" y="1973.5" width="11.7" height="11.7" fill="#8ebcf6"/>
<rect x="398.6" y="1973.5" width="11.7" height="11.7" fill="#8ebcf6"/>
<rect x="405.6" y="1973.5" width="11.7" height="11.7" fill="#8ebcf6"/>
<rect x="412.6" y="1973.5" width="11.7" height="11.7" fill="#8ebcf6"/>
<rect x="419.6" y="1973.5" width="11.7" height="11.7" fill="#8ebcf6"/>
<rect x="426.6" y="1973.5" width="11.7" height="11.7" fill="#8ebcf6"/>
<rect x="433.6" y="1973.5" width="11.7" height="11.7" fill="#8ebcf6"/>
<rect x="440.6" y="1973.5" width="11.7" height="11.7" fill="#8ebcf6"/>
<rect x="447.6" y="1973.5" width="11.7" height="11.7" fill="#8ebcf6"/>
<rect x="454.6" y="1973.5" width="11.7" height="11.7" fill="#8ebcf6"/>
<rect x="461.6" y="1973.5" width="11.7" height="11.7" fill="#8ebcf6"/>
<rect x="468.6" y="1973.5" width="11.7" height="11.7" fill="#8ebcf6"/>
<rect x="374.1" y="1970.7" width="11.7" height="11.7" fill="#8ebcf6"/>
<rect x="391.6" y="1970.7" width="11.7" height="11.7" fill="#8ebcf6"/>
<rect x="409.1" y="1970.7" width="11.7" height="11.7" fill="#8ebcf6"/>
<rect x="426.6" y="1970.7" width="11.7" height="11.7" fill="#8ebcf6"/>
<rect x="444.1" y="1970.7" width="11.7" height="11.7" fill="#8ebcf6"/>
<rect x="243.6" y="1742.5" width="11.7" height="11.7" fill="#c46507"/>
<rect x="237.5" y="1859.2" width="11.7" height="11.7" fill="#c46507"/>
<rect x="243.6" y="1854.7" width="11.7" height="11.7" fill="#c46507"/>
<rect x="243.6" y="1910.6" width="11.7" height="11.7" fill="#c46507"/>
<rect x="237.5" y="1949.1" width="11.7" height="11.7" fill="#c46507"/>
<rect x="221.2" y="1955.5" width="11.7" height="11.7" fill="#c46507"/>
<rect x="254.2" y="1955.2" width="11.7" height="11.7" fill="#c46507"/>
<rect x="259.5" y="1953.4" width="11.7" height="11.7" fill="#c46507"/>
<rect x="287.0" y="1964.1" width="11.7" height="11.7" fill="#c46507"/>
<rect x="194.2" y="1966.2" width="11.7" height="11.7" fill="#c46507"/>
<rect x="199.2" y="1968.2" width="11.7" height="11.7" fill="#c46507"/>
<rect x="188.7" y="1973.2" width="11.7" height="11.7" fill="#c46507"/>
<rect x="195.7" y="1973.2" width="11.7" height="11.7" fill="#c46507"/>
<rect x="202.7" y="1973.2" width="11.7" height="11.7" fill="#c46507"/>
<rect x="209.7" y="1973.2" width="11.7" height="11.7" fill="#c46507"/>
<rect x="216.7" y="1973.2" width="11.7" height="11.7" fill="#c46507"/>
<rect x="223.7" y="1973.2" width="11.7" height="11.7" fill="#c46507"/>
<rect x="230.7" y="1973.2" width="11.7" height="11.7" fill="#c46507"/>
<rect x="237.7" y="1973.2" width="11.7" height="11.7" fill="#c46507"/>
<rect x="244.7" y="1973.2" width="11.7" height="11.7" fill="#c46507"/>
<rect x="251.7" y="1973.2" width="11.7" height="11.7" fill="#c46507"/>
<rect x="258.6" y="1973.2" width="11.7" height="11.7" fill="#c46507"/>
<rect x="265.6" y="1973.2" width="11.7" height="11.7" fill="#c46507"/>
<rect x="272.6" y="1973.2" width="11.7" height="11.7" fill="#c46507"/>
<rect x="279.6" y="1973.2" width="11.7" height="11.7" fill="#c46507"/>
<rect x="286.6" y="1973.2" width="11.7" height="11.7" fill="#c46507"/>
<rect x="293.6" y="1973.2" width="11.7" height="11.7" fill="#c46507"/>
<path d="M119.3 1979.8 H130.8" stroke="#000" stroke-width="2.4" fill="none"/>
<text transform="translate(113.8 1987.5) scale(1 1.100)" font-size="19.50" font-weight="bold" text-anchor="end" font-family="'Liberation Sans', Arial, sans-serif">0</text>
<path d="M119.3 1911.7 H130.8" stroke="#000" stroke-width="2.4" fill="none"/>
<text transform="translate(113.8 1919.4) scale(1 1.100)" font-size="19.50" font-weight="bold" text-anchor="end" font-family="'Liberation Sans', Arial, sans-serif">15</text>
<path d="M119.3 1843.5 H130.8" stroke="#000" stroke-width="2.4" fill="none"/>
<text transform="translate(113.8 1851.3) scale(1 1.100)" font-size="19.50" font-weight="bold" text-anchor="end" font-family="'Liberation Sans', Arial, sans-serif">30</text>
<path d="M119.3 1775.4 H130.8" stroke="#000" stroke-width="2.4" fill="none"/>
<text transform="translate(113.8 1783.1) scale(1 1.100)" font-size="19.50" font-weight="bold" text-anchor="end" font-family="'Liberation Sans', Arial, sans-serif">45</text>
<path d="M119.3 1707.3 H130.8" stroke="#000" stroke-width="2.4" fill="none"/>
<text transform="translate(113.8 1715.0) scale(1 1.100)" font-size="19.50" font-weight="bold" text-anchor="end" font-family="'Liberation Sans', Arial, sans-serif">60</text>
<path d="M245.8 1979.8 V1990.8" stroke="#000" stroke-width="2.4" fill="none"/>
<path d="M420.4 1979.8 V1990.8" stroke="#000" stroke-width="2.4" fill="none"/>
<text x="205.9" y="2011.9" font-size="19.80" font-weight="bold" text-anchor="start" fill="#000" font-family="'Liberation Sans', Arial, sans-serif" textLength="64.6" lengthAdjust="spacingAndGlyphs">AnxA1</text>
<text x="272.0" y="2002.0" font-size="13.86" font-weight="normal" text-anchor="start" fill="#777" font-family="'Liberation Sans', Arial, sans-serif" textLength="13.5" lengthAdjust="spacingAndGlyphs">-/-</text>
<text x="420.4" y="2011.9" font-size="19.80" font-weight="bold" text-anchor="middle" fill="#000" font-family="'Liberation Sans', Arial, sans-serif">WT</text>
<text x="333.8" y="2053.9" font-size="21.80" font-weight="bold" text-anchor="middle" fill="#000" font-family="'Liberation Sans', Arial, sans-serif">Groups</text>
<text transform="translate(78.5 1842.7) rotate(-90)" x="0" y="0" font-size="21.9" font-weight="bold" text-anchor="middle" font-family="'Liberation Sans', Arial, sans-serif" textLength="245.8" lengthAdjust="spacingAndGlyphs">Relative abundance (%)</text>
<text x="935.5" y="1652.1" font-size="26.50" font-weight="bold" text-anchor="middle" fill="#000" font-family="'Liberation Sans', Arial, sans-serif" textLength="177.1" lengthAdjust="spacingAndGlyphs">Parasutterella</text>
<text x="834.0" y="1676.0" font-size="18.80" font-weight="bold" text-anchor="start" fill="#000" font-family="'Liberation Sans', Arial, sans-serif" textLength="50.0" lengthAdjust="spacingAndGlyphs">Day 0</text>
<text x="905.3" y="1676.0" font-size="18.80" font-weight="bold" text-anchor="start" fill="#000" font-family="'Liberation Sans', Arial, sans-serif" textLength="139.3" lengthAdjust="spacingAndGlyphs">p-value &lt;0.0001</text>
<path d="M724.7 1975.1 V1690.1" stroke="#000" stroke-width="2.6" fill="none"/>
<path d="M713.2 1973.8 H1148.7" stroke="#000" stroke-width="2.6" fill="none"/>
<line x1="785.3" y1="1899.0" x2="905.7" y2="1899.0" stroke="#000" stroke-width="2.4"/>
<line x1="967.0" y1="1961.0" x2="1086.3" y2="1961.0" stroke="#000" stroke-width="2.4"/>
<rect x="1020.6" y="1892.1" width="11.7" height="11.7" fill="#8ebcf6"/>
<rect x="1020.6" y="1922.3" width="11.7" height="11.7" fill="#8ebcf6"/>
<rect x="1012.9" y="1928.4" width="11.7" height="11.7" fill="#8ebcf6"/>
<rect x="1020.6" y="1936.6" width="11.7" height="11.7" fill="#8ebcf6"/>
<rect x="1028.2" y="1939.1" width="11.7" height="11.7" fill="#8ebcf6"/>
<rect x="1034.2" y="1959.0" width="11.7" height="11.7" fill="#8ebcf6"/>
<rect x="1064.2" y="1959.8" width="11.7" height="11.7" fill="#8ebcf6"/>
<rect x="966.6" y="1966.2" width="11.7" height="11.7" fill="#8ebcf6"/>
<rect x="973.0" y="1966.2" width="11.7" height="11.7" fill="#8ebcf6"/>
<rect x="979.4" y="1966.2" width="11.7" height="11.7" fill="#8ebcf6"/>
<rect x="985.7" y="1966.2" width="11.7" height="11.7" fill="#8ebcf6"/>
<rect x="992.1" y="1966.2" width="11.7" height="11.7" fill="#8ebcf6"/>
<rect x="998.4" y="1966.2" width="11.7" height="11.7" fill="#8ebcf6"/>
<rect x="1004.8" y="1966.2" width="11.7" height="11.7" fill="#8ebcf6"/>
<rect x="1011.1" y="1966.2" width="11.7" height="11.7" fill="#8ebcf6"/>
<rect x="1017.5" y="1966.2" width="11.7" height="11.7" fill="#8ebcf6"/>
<rect x="1023.8" y="1966.2" width="11.7" height="11.7" fill="#8ebcf6"/>
<rect x="1030.2" y="1966.2" width="11.7" height="11.7" fill="#8ebcf6"/>
<rect x="1036.5" y="1966.2" width="11.7" height="11.7" fill="#8ebcf6"/>
<rect x="1042.9" y="1966.2" width="11.7" height="11.7" fill="#8ebcf6"/>
<rect x="1049.2" y="1966.2" width="11.7" height="11.7" fill="#8ebcf6"/>
<rect x="1055.6" y="1966.2" width="11.7" height="11.7" fill="#8ebcf6"/>
<rect x="1061.9" y="1966.2" width="11.7" height="11.7" fill="#8ebcf6"/>
<rect x="1068.3" y="1966.2" width="11.7" height="11.7" fill="#8ebcf6"/>
<rect x="1074.7" y="1966.2" width="11.7" height="11.7" fill="#8ebcf6"/>
<rect x="997.1" y="1955.8" width="11.7" height="11.7" fill="#8ebcf6"/>
<rect x="1013.1" y="1954.7" width="11.7" height="11.7" fill="#8ebcf6"/>
<rect x="979.1" y="1962.2" width="11.7" height="11.7" fill="#8ebcf6"/>
<rect x="965.6" y="1965.9" width="11.7" height="11.7" fill="#8ebcf6"/>
<rect x="1004.1" y="1964.2" width="11.7" height="11.7" fill="#8ebcf6"/>
<rect x="794.4" y="1908.4" width="11.7" height="11.7" fill="#c46507"/>
<rect x="794.4" y="1964.0" width="11.7" height="11.7" fill="#c46507"/>
<rect x="816.9" y="1865.3" width="11.7" height="11.7" fill="#c46507"/>
<rect x="816.9" y="1885.6" width="11.7" height="11.7" fill="#c46507"/>
<rect x="816.9" y="1907.0" width="11.7" height="11.7" fill="#c46507"/>
<rect x="816.9" y="1939.4" width="11.7" height="11.7" fill="#c46507"/>
<rect x="816.9" y="1950.8" width="11.7" height="11.7" fill="#c46507"/>
<rect x="839.2" y="1706.1" width="11.7" height="11.7" fill="#c46507"/>
<rect x="839.2" y="1806.5" width="11.7" height="11.7" fill="#c46507"/>
<rect x="839.2" y="1819.0" width="11.7" height="11.7" fill="#c46507"/>
<rect x="839.2" y="1835.8" width="11.7" height="11.7" fill="#c46507"/>
<rect x="839.2" y="1848.2" width="11.7" height="11.7" fill="#c46507"/>
<rect x="839.2" y="1865.3" width="11.7" height="11.7" fill="#c46507"/>
<rect x="839.2" y="1914.1" width="11.7" height="11.7" fill="#c46507"/>
<rect x="839.2" y="1928.4" width="11.7" height="11.7" fill="#c46507"/>
<rect x="839.2" y="1945.5" width="11.7" height="11.7" fill="#c46507"/>
<rect x="839.2" y="1960.5" width="11.7" height="11.7" fill="#c46507"/>
<rect x="862.0" y="1827.9" width="11.7" height="11.7" fill="#c46507"/>
<rect x="862.0" y="1855.7" width="11.7" height="11.7" fill="#c46507"/>
<rect x="862.0" y="1883.9" width="11.7" height="11.7" fill="#c46507"/>
<rect x="862.0" y="1911.7" width="11.7" height="11.7" fill="#c46507"/>
<rect x="862.0" y="1921.3" width="11.7" height="11.7" fill="#c46507"/>
<rect x="862.0" y="1943.7" width="11.7" height="11.7" fill="#c46507"/>
<rect x="862.0" y="1954.4" width="11.7" height="11.7" fill="#c46507"/>
<rect x="884.5" y="1861.1" width="11.7" height="11.7" fill="#c46507"/>
<rect x="884.5" y="1905.2" width="11.7" height="11.7" fill="#c46507"/>
<rect x="884.5" y="1934.8" width="11.7" height="11.7" fill="#c46507"/>
<rect x="884.5" y="1965.1" width="11.7" height="11.7" fill="#c46507"/>
<path d="M713.2 1973.8 H724.7" stroke="#000" stroke-width="2.4" fill="none"/>
<text transform="translate(710.2 1981.7) scale(1 1.100)" font-size="20.00" font-weight="bold" text-anchor="end" font-family="'Liberation Sans', Arial, sans-serif">0</text>
<path d="M713.2 1903.2 H724.7" stroke="#000" stroke-width="2.4" fill="none"/>
<text transform="translate(710.2 1911.1) scale(1 1.100)" font-size="20.00" font-weight="bold" text-anchor="end" font-family="'Liberation Sans', Arial, sans-serif">1</text>
<path d="M713.2 1832.5 H724.7" stroke="#000" stroke-width="2.4" fill="none"/>
<text transform="translate(710.2 1840.5) scale(1 1.100)" font-size="20.00" font-weight="bold" text-anchor="end" font-family="'Liberation Sans', Arial, sans-serif">2</text>
<path d="M713.2 1761.9 H724.7" stroke="#000" stroke-width="2.4" fill="none"/>
<text transform="translate(710.2 1769.8) scale(1 1.100)" font-size="20.00" font-weight="bold" text-anchor="end" font-family="'Liberation Sans', Arial, sans-serif">3</text>
<path d="M713.2 1691.3 H724.7" stroke="#000" stroke-width="2.4" fill="none"/>
<text transform="translate(710.2 1699.2) scale(1 1.100)" font-size="20.00" font-weight="bold" text-anchor="end" font-family="'Liberation Sans', Arial, sans-serif">4</text>
<path d="M845.1 1973.8 V1984.8" stroke="#000" stroke-width="2.4" fill="none"/>
<path d="M1025.7 1973.8 V1984.8" stroke="#000" stroke-width="2.4" fill="none"/>
<text x="804.8" y="2007.3" font-size="20.00" font-weight="bold" text-anchor="start" fill="#000" font-family="'Liberation Sans', Arial, sans-serif" textLength="65.2" lengthAdjust="spacingAndGlyphs">AnxA1</text>
<text x="871.5" y="1997.3" font-size="14.00" font-weight="normal" text-anchor="start" fill="#777" font-family="'Liberation Sans', Arial, sans-serif" textLength="13.7" lengthAdjust="spacingAndGlyphs">-/-</text>
<text x="1025.7" y="2007.3" font-size="20.00" font-weight="bold" text-anchor="middle" fill="#000" font-family="'Liberation Sans', Arial, sans-serif">WT</text>
<text x="934.9" y="2051.0" font-size="22.00" font-weight="bold" text-anchor="middle" fill="#000" font-family="'Liberation Sans', Arial, sans-serif">Groups</text>
<text transform="translate(680.7 1831.1) rotate(-90)" x="0" y="0" font-size="22.5" font-weight="bold" text-anchor="middle" font-family="'Liberation Sans', Arial, sans-serif" textLength="254.8" lengthAdjust="spacingAndGlyphs">Relative abundance (%)</text>
<text x="659.3" y="2113.8" font-size="25.00" font-weight="bold" text-anchor="middle" fill="#000" font-family="'Liberation Sans', Arial, sans-serif" textLength="142.5" lengthAdjust="spacingAndGlyphs">Odoribacter</text>
<text x="558.4" y="2136.3" font-size="18.00" font-weight="bold" text-anchor="start" fill="#000" font-family="'Liberation Sans', Arial, sans-serif" textLength="46.3" lengthAdjust="spacingAndGlyphs">Day 0</text>
<text x="623.6" y="2136.3" font-size="18.00" font-weight="bold" text-anchor="start" fill="#000" font-family="'Liberation Sans', Arial, sans-serif" textLength="129.0" lengthAdjust="spacingAndGlyphs">p-value: 0.0002</text>
<path d="M460.4 2416.9 V2149.3" stroke="#000" stroke-width="2.6" fill="none"/>
<path d="M448.9 2415.6 H858.7" stroke="#000" stroke-width="2.6" fill="none"/>
<line x1="517.4" y1="2375.0" x2="630.4" y2="2375.0" stroke="#000" stroke-width="2.4"/>
<line x1="693.8" y1="2406.0" x2="798.9" y2="2406.0" stroke="#000" stroke-width="2.4"/>
<rect x="720.7" y="2381.3" width="11.7" height="11.7" fill="#8ebcf6"/>
<rect x="741.4" y="2377.7" width="11.7" height="11.7" fill="#8ebcf6"/>
<rect x="686.2" y="2403.7" width="11.7" height="11.7" fill="#8ebcf6"/>
<rect x="695.1" y="2399.1" width="11.7" height="11.7" fill="#8ebcf6"/>
<rect x="704.0" y="2401.2" width="11.7" height="11.7" fill="#8ebcf6"/>
<rect x="714.0" y="2396.6" width="11.7" height="11.7" fill="#8ebcf6"/>
<rect x="714.7" y="2409.1" width="11.7" height="11.7" fill="#8ebcf6"/>
<rect x="727.2" y="2394.8" width="11.7" height="11.7" fill="#8ebcf6"/>
<rect x="727.2" y="2403.7" width="11.7" height="11.7" fill="#8ebcf6"/>
<rect x="736.1" y="2405.5" width="11.7" height="11.7" fill="#8ebcf6"/>
<rect x="743.2" y="2407.3" width="11.7" height="11.7" fill="#8ebcf6"/>
<rect x="750.3" y="2403.7" width="11.7" height="11.7" fill="#8ebcf6"/>
<rect x="761.7" y="2394.8" width="11.7" height="11.7" fill="#8ebcf6"/>
<rect x="761.7" y="2403.7" width="11.7" height="11.7" fill="#8ebcf6"/>
<rect x="771.7" y="2405.5" width="11.7" height="11.7" fill="#8ebcf6"/>
<rect x="782.4" y="2391.2" width="11.7" height="11.7" fill="#8ebcf6"/>
<rect x="782.4" y="2400.2" width="11.7" height="11.7" fill="#8ebcf6"/>
<rect x="789.5" y="2398.4" width="11.7" height="11.7" fill="#8ebcf6"/>
<rect x="705.8" y="2405.5" width="11.7" height="11.7" fill="#8ebcf6"/>
<rect x="721.8" y="2406.2" width="11.7" height="11.7" fill="#8ebcf6"/>
<rect x="753.9" y="2400.2" width="11.7" height="11.7" fill="#8ebcf6"/>
<rect x="773.5" y="2400.2" width="11.7" height="11.7" fill="#8ebcf6"/>
<rect x="575.0" y="2194.6" width="11.7" height="11.7" fill="#c46507"/>
<rect x="560.4" y="2301.5" width="11.7" height="11.7" fill="#c46507"/>
<rect x="575.0" y="2304.0" width="11.7" height="11.7" fill="#c46507"/>
<rect x="560.4" y="2328.2" width="11.7" height="11.7" fill="#c46507"/>
<rect x="575.0" y="2333.5" width="11.7" height="11.7" fill="#c46507"/>
<rect x="531.2" y="2352.8" width="11.7" height="11.7" fill="#c46507"/>
<rect x="560.4" y="2353.1" width="11.7" height="11.7" fill="#c46507"/>
<rect x="546.2" y="2360.3" width="11.7" height="11.7" fill="#c46507"/>
<rect x="575.0" y="2358.1" width="11.7" height="11.7" fill="#c46507"/>
<rect x="590.0" y="2359.2" width="11.7" height="11.7" fill="#c46507"/>
<rect x="560.4" y="2364.5" width="11.7" height="11.7" fill="#c46507"/>
<rect x="546.2" y="2372.7" width="11.7" height="11.7" fill="#c46507"/>
<rect x="560.4" y="2379.8" width="11.7" height="11.7" fill="#c46507"/>
<rect x="590.0" y="2382.7" width="11.7" height="11.7" fill="#c46507"/>
<rect x="619.2" y="2384.1" width="11.7" height="11.7" fill="#c46507"/>
<rect x="516.2" y="2397.3" width="11.7" height="11.7" fill="#c46507"/>
<rect x="531.2" y="2396.6" width="11.7" height="11.7" fill="#c46507"/>
<rect x="546.2" y="2399.1" width="11.7" height="11.7" fill="#c46507"/>
<rect x="560.4" y="2394.8" width="11.7" height="11.7" fill="#c46507"/>
<rect x="575.0" y="2389.5" width="11.7" height="11.7" fill="#c46507"/>
<rect x="590.0" y="2396.6" width="11.7" height="11.7" fill="#c46507"/>
<rect x="605.0" y="2393.0" width="11.7" height="11.7" fill="#c46507"/>
<rect x="619.2" y="2395.9" width="11.7" height="11.7" fill="#c46507"/>
<rect x="560.4" y="2405.5" width="11.7" height="11.7" fill="#c46507"/>
<rect x="575.0" y="2401.9" width="11.7" height="11.7" fill="#c46507"/>
<rect x="605.0" y="2403.7" width="11.7" height="11.7" fill="#c46507"/>
<rect x="531.2" y="2409.8" width="11.7" height="11.7" fill="#c46507"/>
<rect x="560.4" y="2407.3" width="11.7" height="11.7" fill="#c46507"/>
<rect x="590.0" y="2409.8" width="11.7" height="11.7" fill="#c46507"/>
<path d="M448.9 2415.6 H460.4" stroke="#000" stroke-width="2.4" fill="none"/>
<text transform="translate(445.9 2423.3) scale(1 1.100)" font-size="19.50" font-weight="bold" text-anchor="end" font-family="'Liberation Sans', Arial, sans-serif">0</text>
<path d="M448.9 2327.2 H460.4" stroke="#000" stroke-width="2.4" fill="none"/>
<text transform="translate(445.9 2335.0) scale(1 1.100)" font-size="19.50" font-weight="bold" text-anchor="end" font-family="'Liberation Sans', Arial, sans-serif">2</text>
<path d="M448.9 2238.9 H460.4" stroke="#000" stroke-width="2.4" fill="none"/>
<text transform="translate(445.9 2246.6) scale(1 1.100)" font-size="19.50" font-weight="bold" text-anchor="end" font-family="'Liberation Sans', Arial, sans-serif">4</text>
<path d="M448.9 2150.5 H460.4" stroke="#000" stroke-width="2.4" fill="none"/>
<text transform="translate(445.9 2158.2) scale(1 1.100)" font-size="19.50" font-weight="bold" text-anchor="end" font-family="'Liberation Sans', Arial, sans-serif">6</text>
<path d="M572.7 2415.6 V2426.6" stroke="#000" stroke-width="2.4" fill="none"/>
<path d="M743.7 2415.6 V2426.6" stroke="#000" stroke-width="2.4" fill="none"/>
<text x="533.2" y="2447.7" font-size="19.60" font-weight="bold" text-anchor="start" fill="#000" font-family="'Liberation Sans', Arial, sans-serif" textLength="63.9" lengthAdjust="spacingAndGlyphs">AnxA1</text>
<text x="598.6" y="2437.9" font-size="13.72" font-weight="normal" text-anchor="start" fill="#777" font-family="'Liberation Sans', Arial, sans-serif" textLength="13.4" lengthAdjust="spacingAndGlyphs">-/-</text>
<text x="743.7" y="2447.7" font-size="19.60" font-weight="bold" text-anchor="middle" fill="#000" font-family="'Liberation Sans', Arial, sans-serif">WT</text>
<text x="658.2" y="2489.7" font-size="21.50" font-weight="bold" text-anchor="middle" fill="#000" font-family="'Liberation Sans', Arial, sans-serif">Groups</text>
<text transform="translate(420.0 2282.2) rotate(-90)" x="0" y="0" font-size="21.4" font-weight="bold" text-anchor="middle" font-family="'Liberation Sans', Arial, sans-serif" textLength="240.4" lengthAdjust="spacingAndGlyphs">Relative abundance (%)</text>
<rect x="1795.50" y="96.70" width="37.60" height="39.91" fill="#7a1f59"/>
<rect x="1832.80" y="94.60" width="36.20" height="39.95" fill="#9a1b5b"/>
<rect x="1795.50" y="136.21" width="37.60" height="39.91" fill="#7a1f59"/>
<rect x="1832.80" y="134.15" width="36.20" height="39.95" fill="#4e1d4b"/>
<rect x="1795.50" y="175.71" width="37.60" height="39.91" fill="#561e4f"/>
<rect x="1832.80" y="173.70" width="36.20" height="39.95" fill="#3c1a42"/>
<rect x="1795.50" y="215.22" width="37.60" height="39.91" fill="#dc2b46"/>
<rect x="1832.80" y="213.24" width="36.20" height="39.95" fill="#f26948"/>
<rect x="1795.50" y="254.72" width="37.60" height="39.91" fill="#c71951"/>
<rect x="1832.80" y="252.79" width="36.20" height="39.95" fill="#de2e44"/>
<rect x="1795.50" y="294.23" width="37.60" height="39.91" fill="#e03143"/>
<rect x="1832.80" y="292.34" width="36.20" height="39.95" fill="#e73d3f"/>
<rect x="1795.50" y="333.74" width="37.60" height="39.91" fill="#ec4a3e"/>
<rect x="1832.80" y="331.89" width="36.20" height="39.95" fill="#e73d3f"/>
<rect x="1795.50" y="373.24" width="37.60" height="39.91" fill="#c71951"/>
<rect x="1832.80" y="371.44" width="36.20" height="39.95" fill="#e53940"/>
<rect x="1795.50" y="412.75" width="37.60" height="39.91" fill="#d11f4c"/>
<rect x="1832.80" y="410.98" width="36.20" height="39.95" fill="#d62449"/>
<rect x="1795.50" y="452.25" width="37.60" height="39.91" fill="#d11f4c"/>
<rect x="1832.80" y="450.53" width="36.20" height="39.95" fill="#d11f4c"/>
<rect x="1795.50" y="491.76" width="37.60" height="39.91" fill="#d62449"/>
<rect x="1832.80" y="490.08" width="36.20" height="39.95" fill="#d11f4c"/>
<rect x="1795.50" y="531.27" width="37.60" height="39.91" fill="#dc2b46"/>
<rect x="1832.80" y="529.63" width="36.20" height="39.95" fill="#ca1a50"/>
<rect x="1795.50" y="570.77" width="37.60" height="39.91" fill="#dc2b46"/>
<rect x="1832.80" y="569.18" width="36.20" height="39.95" fill="#f16646"/>
<rect x="1795.50" y="610.28" width="37.60" height="39.91" fill="#f26948"/>
<rect x="1832.80" y="608.72" width="36.20" height="39.95" fill="#f59269"/>
<rect x="1795.50" y="649.78" width="37.60" height="39.91" fill="#f9ddc9"/>
<rect x="1832.80" y="648.27" width="36.20" height="39.95" fill="#faebdd"/>
<rect x="1795.50" y="689.29" width="37.60" height="39.91" fill="#f7c9aa"/>
<rect x="1832.80" y="687.82" width="36.20" height="39.95" fill="#f7c9aa"/>
<rect x="1795.50" y="728.80" width="37.60" height="39.91" fill="#f05c42"/>
<rect x="1832.80" y="727.37" width="36.20" height="39.95" fill="#f4835b"/>
<rect x="1795.50" y="768.30" width="37.60" height="39.91" fill="#f4835b"/>
<rect x="1832.80" y="766.92" width="36.20" height="39.95" fill="#f47a54"/>
<rect x="1795.50" y="807.81" width="37.60" height="39.91" fill="#f58f66"/>
<rect x="1832.80" y="806.46" width="36.20" height="39.95" fill="#f4865e"/>
<rect x="1795.50" y="847.31" width="37.60" height="39.91" fill="#f05c42"/>
<rect x="1832.80" y="846.01" width="36.20" height="39.95" fill="#f4835b"/>
<rect x="1795.50" y="886.82" width="37.60" height="39.91" fill="#f4865e"/>
<rect x="1832.80" y="885.56" width="36.20" height="39.95" fill="#ee543f"/>
<rect x="1795.50" y="926.33" width="37.60" height="39.91" fill="#ec4a3e"/>
<rect x="1832.80" y="925.11" width="36.20" height="39.95" fill="#e9423e"/>
<rect x="1795.50" y="965.83" width="37.60" height="39.91" fill="#f6a178"/>
<rect x="1832.80" y="964.66" width="36.20" height="39.95" fill="#f4835b"/>
<rect x="1795.50" y="1005.34" width="37.60" height="39.91" fill="#f58f66"/>
<rect x="1832.80" y="1004.20" width="36.20" height="39.95" fill="#ec4a3e"/>
<rect x="1795.50" y="1044.84" width="37.60" height="39.91" fill="#d92847"/>
<rect x="1832.80" y="1043.75" width="36.20" height="39.95" fill="#c71951"/>
<rect x="1795.50" y="1084.35" width="37.60" height="39.91" fill="#c41753"/>
<rect x="1832.80" y="1083.30" width="36.20" height="39.95" fill="#c41753"/>
<rect x="1795.50" y="1123.86" width="37.60" height="39.91" fill="#c71951"/>
<rect x="1832.80" y="1122.85" width="36.20" height="39.95" fill="#aa185a"/>
<rect x="1795.50" y="1163.36" width="37.60" height="39.91" fill="#ca1a50"/>
<rect x="1832.80" y="1162.40" width="36.20" height="39.95" fill="#aa185a"/>
<rect x="1795.50" y="1202.87" width="37.60" height="39.91" fill="#b01759"/>
<rect x="1832.80" y="1201.94" width="36.20" height="39.95" fill="#c41753"/>
<rect x="1795.50" y="1242.37" width="37.60" height="39.91" fill="#d92847"/>
<rect x="1832.80" y="1241.49" width="36.20" height="39.95" fill="#c41753"/>
<rect x="1795.50" y="1281.88" width="37.60" height="39.91" fill="#b01759"/>
<rect x="1832.80" y="1281.04" width="36.20" height="39.95" fill="#c41753"/>
<rect x="1795.50" y="1321.39" width="37.60" height="39.91" fill="#c41753"/>
<rect x="1832.80" y="1320.59" width="36.20" height="39.95" fill="#d3214b"/>
<rect x="1795.50" y="1360.89" width="37.60" height="39.91" fill="#bf1654"/>
<rect x="1832.80" y="1360.14" width="36.20" height="39.95" fill="#9a1b5b"/>
<rect x="1795.50" y="1400.40" width="37.60" height="39.91" fill="#d3214b"/>
<rect x="1832.80" y="1399.68" width="36.20" height="39.95" fill="#8e1d5b"/>
<rect x="1795.50" y="1439.90" width="37.60" height="39.91" fill="#bf1654"/>
<rect x="1832.80" y="1439.23" width="36.20" height="39.95" fill="#bc1656"/>
<rect x="1795.50" y="1479.41" width="37.60" height="39.91" fill="#a11a5b"/>
<rect x="1832.80" y="1478.78" width="36.20" height="39.95" fill="#b91657"/>
<rect x="1795.50" y="1518.92" width="37.60" height="39.91" fill="#7a1f59"/>
<rect x="1832.80" y="1518.33" width="36.20" height="39.95" fill="#b91657"/>
<rect x="1795.50" y="1558.42" width="37.60" height="39.91" fill="#b91657"/>
<rect x="1832.80" y="1557.88" width="36.20" height="39.95" fill="#aa185a"/>
<rect x="1795.50" y="1597.93" width="37.60" height="39.91" fill="#8b1d5b"/>
<rect x="1832.80" y="1597.42" width="36.20" height="39.95" fill="#921c5b"/>
<rect x="1795.50" y="1637.43" width="37.60" height="39.91" fill="#9e1a5b"/>
<rect x="1832.80" y="1636.97" width="36.20" height="39.95" fill="#951c5b"/>
<rect x="1795.50" y="1676.94" width="37.60" height="39.91" fill="#921c5b"/>
<rect x="1832.80" y="1676.52" width="36.20" height="39.95" fill="#b51657"/>
<rect x="1795.50" y="1716.45" width="37.60" height="39.91" fill="#f16646"/>
<rect x="1832.80" y="1716.07" width="36.20" height="39.95" fill="#c41753"/>
<rect x="1795.50" y="1755.95" width="37.60" height="39.91" fill="#f16646"/>
<rect x="1832.80" y="1755.62" width="36.20" height="39.95" fill="#d3214b"/>
<rect x="1795.50" y="1795.46" width="37.60" height="39.91" fill="#ec4a3e"/>
<rect x="1832.80" y="1795.16" width="36.20" height="39.95" fill="#e73d3f"/>
<rect x="1795.50" y="1834.96" width="37.60" height="39.91" fill="#d62449"/>
<rect x="1832.80" y="1834.71" width="36.20" height="39.95" fill="#6b1f56"/>
<rect x="1795.50" y="1874.47" width="37.60" height="39.91" fill="#ee543f"/>
<rect x="1832.80" y="1874.26" width="36.20" height="39.95" fill="#ad1759"/>
<rect x="1795.50" y="1913.98" width="37.60" height="39.91" fill="#d62449"/>
<rect x="1832.80" y="1913.81" width="36.20" height="39.95" fill="#b91657"/>
<rect x="1795.50" y="1953.48" width="37.60" height="39.91" fill="#b91657"/>
<rect x="1832.80" y="1953.36" width="36.20" height="39.95" fill="#03051a"/>
<rect x="1795.50" y="1992.99" width="37.60" height="39.91" fill="#aa185a"/>
<rect x="1832.80" y="1992.90" width="36.20" height="39.95" fill="#731f58"/>
<rect x="1795.50" y="2032.49" width="37.60" height="39.91" fill="#ad1759"/>
<rect x="1832.80" y="2032.45" width="36.20" height="39.95" fill="#731f58"/>
<line x1="1795.5" y1="136.21" x2="1832.8" y2="136.21" stroke="#fff" stroke-opacity="0.11" stroke-width="1.3"/>
<line x1="1832.8" y1="134.15" x2="1869.0" y2="134.15" stroke="#fff" stroke-opacity="0.11" stroke-width="1.3"/>
<line x1="1795.5" y1="175.71" x2="1832.8" y2="175.71" stroke="#fff" stroke-opacity="0.11" stroke-width="1.3"/>
<line x1="1832.8" y1="173.70" x2="1869.0" y2="173.70" stroke="#fff" stroke-opacity="0.11" stroke-width="1.3"/>
<line x1="1795.5" y1="215.22" x2="1832.8" y2="215.22" stroke="#fff" stroke-opacity="0.11" stroke-width="1.3"/>
<line x1="1832.8" y1="213.24" x2="1869.0" y2="213.24" stroke="#fff" stroke-opacity="0.11" stroke-width="1.3"/>
<line x1="1795.5" y1="254.72" x2="1832.8" y2="254.72" stroke="#fff" stroke-opacity="0.11" stroke-width="1.3"/>
<line x1="1832.8" y1="252.79" x2="1869.0" y2="252.79" stroke="#fff" stroke-opacity="0.11" stroke-width="1.3"/>
<line x1="1795.5" y1="294.23" x2="1832.8" y2="294.23" stroke="#fff" stroke-opacity="0.11" stroke-width="1.3"/>
<line x1="1832.8" y1="292.34" x2="1869.0" y2="292.34" stroke="#fff" stroke-opacity="0.11" stroke-width="1.3"/>
<line x1="1795.5" y1="333.74" x2="1832.8" y2="333.74" stroke="#fff" stroke-opacity="0.11" stroke-width="1.3"/>
<line x1="1832.8" y1="331.89" x2="1869.0" y2="331.89" stroke="#fff" stroke-opacity="0.11" stroke-width="1.3"/>
<line x1="1795.5" y1="373.24" x2="1832.8" y2="373.24" stroke="#fff" stroke-opacity="0.11" stroke-width="1.3"/>
<line x1="1832.8" y1="371.44" x2="1869.0" y2="371.44" stroke="#fff" stroke-opacity="0.11" stroke-width="1.3"/>
<line x1="1795.5" y1="412.75" x2="1832.8" y2="412.75" stroke="#fff" stroke-opacity="0.11" stroke-width="1.3"/>
<line x1="1832.8" y1="410.98" x2="1869.0" y2="410.98" stroke="#fff" stroke-opacity="0.11" stroke-width="1.3"/>
<line x1="1795.5" y1="452.25" x2="1832.8" y2="452.25" stroke="#fff" stroke-opacity="0.11" stroke-width="1.3"/>
<line x1="1832.8" y1="450.53" x2="1869.0" y2="450.53" stroke="#fff" stroke-opacity="0.11" stroke-width="1.3"/>
<line x1="1795.5" y1="491.76" x2="1832.8" y2="491.76" stroke="#fff" stroke-opacity="0.11" stroke-width="1.3"/>
<line x1="1832.8" y1="490.08" x2="1869.0" y2="490.08" stroke="#fff" stroke-opacity="0.11" stroke-width="1.3"/>
<line x1="1795.5" y1="531.27" x2="1832.8" y2="531.27" stroke="#fff" stroke-opacity="0.11" stroke-width="1.3"/>
<line x1="1832.8" y1="529.63" x2="1869.0" y2="529.63" stroke="#fff" stroke-opacity="0.11" stroke-width="1.3"/>
<line x1="1795.5" y1="570.77" x2="1832.8" y2="570.77" stroke="#fff" stroke-opacity="0.11" stroke-width="1.3"/>
<line x1="1832.8" y1="569.18" x2="1869.0" y2="569.18" stroke="#fff" stroke-opacity="0.11" stroke-width="1.3"/>
<line x1="1795.5" y1="610.28" x2="1832.8" y2="610.28" stroke="#fff" stroke-opacity="0.11" stroke-width="1.3"/>
<line x1="1832.8" y1="608.72" x2="1869.0" y2="608.72" stroke="#fff" stroke-opacity="0.11" stroke-width="1.3"/>
<line x1="1795.5" y1="649.78" x2="1832.8" y2="649.78" stroke="#fff" stroke-opacity="0.11" stroke-width="1.3"/>
<line x1="1832.8" y1="648.27" x2="1869.0" y2="648.27" stroke="#fff" stroke-opacity="0.11" stroke-width="1.3"/>
<line x1="1795.5" y1="689.29" x2="1832.8" y2="689.29" stroke="#fff" stroke-opacity="0.11" stroke-width="1.3"/>
<line x1="1832.8" y1="687.82" x2="1869.0" y2="687.82" stroke="#fff" stroke-opacity="0.11" stroke-width="1.3"/>
<line x1="1795.5" y1="728.80" x2="1832.8" y2="728.80" stroke="#fff" stroke-opacity="0.11" stroke-width="1.3"/>
<line x1="1832.8" y1="727.37" x2="1869.0" y2="727.37" stroke="#fff" stroke-opacity="0.11" stroke-width="1.3"/>
<line x1="1795.5" y1="768.30" x2="1832.8" y2="768.30" stroke="#fff" stroke-opacity="0.11" stroke-width="1.3"/>
<line x1="1832.8" y1="766.92" x2="1869.0" y2="766.92" stroke="#fff" stroke-opacity="0.11" stroke-width="1.3"/>
<line x1="1795.5" y1="807.81" x2="1832.8" y2="807.81" stroke="#fff" stroke-opacity="0.11" stroke-width="1.3"/>
<line x1="1832.8" y1="806.46" x2="1869.0" y2="806.46" stroke="#fff" stroke-opacity="0.11" stroke-width="1.3"/>
<line x1="1795.5" y1="847.31" x2="1832.8" y2="847.31" stroke="#fff" stroke-opacity="0.11" stroke-width="1.3"/>
<line x1="1832.8" y1="846.01" x2="1869.0" y2="846.01" stroke="#fff" stroke-opacity="0.11" stroke-width="1.3"/>
<line x1="1795.5" y1="886.82" x2="1832.8" y2="886.82" stroke="#fff" stroke-opacity="0.11" stroke-width="1.3"/>
<line x1="1832.8" y1="885.56" x2="1869.0" y2="885.56" stroke="#fff" stroke-opacity="0.11" stroke-width="1.3"/>
<line x1="1795.5" y1="926.33" x2="1832.8" y2="926.33" stroke="#fff" stroke-opacity="0.11" stroke-width="1.3"/>
<line x1="1832.8" y1="925.11" x2="1869.0" y2="925.11" stroke="#fff" stroke-opacity="0.11" stroke-width="1.3"/>
<line x1="1795.5" y1="965.83" x2="1832.8" y2="965.83" stroke="#fff" stroke-opacity="0.11" stroke-width="1.3"/>
<line x1="1832.8" y1="964.66" x2="1869.0" y2="964.66" stroke="#fff" stroke-opacity="0.11" stroke-width="1.3"/>
<line x1="1795.5" y1="1005.34" x2="1832.8" y2="1005.34" stroke="#fff" stroke-opacity="0.11" stroke-width="1.3"/>
<line x1="1832.8" y1="1004.20" x2="1869.0" y2="1004.20" stroke="#fff" stroke-opacity="0.11" stroke-width="1.3"/>
<line x1="1795.5" y1="1044.84" x2="1832.8" y2="1044.84" stroke="#fff" stroke-opacity="0.11" stroke-width="1.3"/>
<line x1="1832.8" y1="1043.75" x2="1869.0" y2="1043.75" stroke="#fff" stroke-opacity="0.11" stroke-width="1.3"/>
<line x1="1795.5" y1="1084.35" x2="1832.8" y2="1084.35" stroke="#fff" stroke-opacity="0.11" stroke-width="1.3"/>
<line x1="1832.8" y1="1083.30" x2="1869.0" y2="1083.30" stroke="#fff" stroke-opacity="0.11" stroke-width="1.3"/>
<line x1="1795.5" y1="1123.86" x2="1832.8" y2="1123.86" stroke="#fff" stroke-opacity="0.11" stroke-width="1.3"/>
<line x1="1832.8" y1="1122.85" x2="1869.0" y2="1122.85" stroke="#fff" stroke-opacity="0.11" stroke-width="1.3"/>
<line x1="1795.5" y1="1163.36" x2="1832.8" y2="1163.36" stroke="#fff" stroke-opacity="0.11" stroke-width="1.3"/>
<line x1="1832.8" y1="1162.40" x2="1869.0" y2="1162.40" stroke="#fff" stroke-opacity="0.11" stroke-width="1.3"/>
<line x1="1795.5" y1="1202.87" x2="1832.8" y2="1202.87" stroke="#fff" stroke-opacity="0.11" stroke-width="1.3"/>
<line x1="1832.8" y1="1201.94" x2="1869.0" y2="1201.94" stroke="#fff" stroke-opacity="0.11" stroke-width="1.3"/>
<line x1="1795.5" y1="1242.37" x2="1832.8" y2="1242.37" stroke="#fff" stroke-opacity="0.11" stroke-width="1.3"/>
<line x1="1832.8" y1="1241.49" x2="1869.0" y2="1241.49" stroke="#fff" stroke-opacity="0.11" stroke-width="1.3"/>
<line x1="1795.5" y1="1281.88" x2="1832.8" y2="1281.88" stroke="#fff" stroke-opacity="0.11" stroke-width="1.3"/>
<line x1="1832.8" y1="1281.04" x2="1869.0" y2="1281.04" stroke="#fff" stroke-opacity="0.11" stroke-width="1.3"/>
<line x1="1795.5" y1="1321.39" x2="1832.8" y2="1321.39" stroke="#fff" stroke-opacity="0.11" stroke-width="1.3"/>
<line x1="1832.8" y1="1320.59" x2="1869.0" y2="1320.59" stroke="#fff" stroke-opacity="0.11" stroke-width="1.3"/>
<line x1="1795.5" y1="1360.89" x2="1832.8" y2="1360.89" stroke="#fff" stroke-opacity="0.11" stroke-width="1.3"/>
<line x1="1832.8" y1="1360.14" x2="1869.0" y2="1360.14" stroke="#fff" stroke-opacity="0.11" stroke-width="1.3"/>
<line x1="1795.5" y1="1400.40" x2="1832.8" y2="1400.40" stroke="#fff" stroke-opacity="0.11" stroke-width="1.3"/>
<line x1="1832.8" y1="1399.68" x2="1869.0" y2="1399.68" stroke="#fff" stroke-opacity="0.11" stroke-width="1.3"/>
<line x1="1795.5" y1="1439.90" x2="1832.8" y2="1439.90" stroke="#fff" stroke-opacity="0.11" stroke-width="1.3"/>
<line x1="1832.8" y1="1439.23" x2="1869.0" y2="1439.23" stroke="#fff" stroke-opacity="0.11" stroke-width="1.3"/>
<line x1="1795.5" y1="1479.41" x2="1832.8" y2="1479.41" stroke="#fff" stroke-opacity="0.11" stroke-width="1.3"/>
<line x1="1832.8" y1="1478.78" x2="1869.0" y2="1478.78" stroke="#fff" stroke-opacity="0.11" stroke-width="1.3"/>
<line x1="1795.5" y1="1518.92" x2="1832.8" y2="1518.92" stroke="#fff" stroke-opacity="0.11" stroke-width="1.3"/>
<line x1="1832.8" y1="1518.33" x2="1869.0" y2="1518.33" stroke="#fff" stroke-opacity="0.11" stroke-width="1.3"/>
<line x1="1795.5" y1="1558.42" x2="1832.8" y2="1558.42" stroke="#fff" stroke-opacity="0.11" stroke-width="1.3"/>
<line x1="1832.8" y1="1557.88" x2="1869.0" y2="1557.88" stroke="#fff" stroke-opacity="0.11" stroke-width="1.3"/>
<line x1="1795.5" y1="1597.93" x2="1832.8" y2="1597.93" stroke="#fff" stroke-opacity="0.11" stroke-width="1.3"/>
<line x1="1832.8" y1="1597.42" x2="1869.0" y2="1597.42" stroke="#fff" stroke-opacity="0.11" stroke-width="1.3"/>
<line x1="1795.5" y1="1637.43" x2="1832.8" y2="1637.43" stroke="#fff" stroke-opacity="0.11" stroke-width="1.3"/>
<line x1="1832.8" y1="1636.97" x2="1869.0" y2="1636.97" stroke="#fff" stroke-opacity="0.11" stroke-width="1.3"/>
<line x1="1795.5" y1="1676.94" x2="1832.8" y2="1676.94" stroke="#fff" stroke-opacity="0.11" stroke-width="1.3"/>
<line x1="1832.8" y1="1676.52" x2="1869.0" y2="1676.52" stroke="#fff" stroke-opacity="0.11" stroke-width="1.3"/>
<line x1="1795.5" y1="1716.45" x2="1832.8" y2="1716.45" stroke="#fff" stroke-opacity="0.11" stroke-width="1.3"/>
<line x1="1832.8" y1="1716.07" x2="1869.0" y2="1716.07" stroke="#fff" stroke-opacity="0.11" stroke-width="1.3"/>
<line x1="1795.5" y1="1755.95" x2="1832.8" y2="1755.95" stroke="#fff" stroke-opacity="0.11" stroke-width="1.3"/>
<line x1="1832.8" y1="1755.62" x2="1869.0" y2="1755.62" stroke="#fff" stroke-opacity="0.11" stroke-width="1.3"/>
<line x1="1795.5" y1="1795.46" x2="1832.8" y2="1795.46" stroke="#fff" stroke-opacity="0.11" stroke-width="1.3"/>
<line x1="1832.8" y1="1795.16" x2="1869.0" y2="1795.16" stroke="#fff" stroke-opacity="0.11" stroke-width="1.3"/>
<line x1="1795.5" y1="1834.96" x2="1832.8" y2="1834.96" stroke="#fff" stroke-opacity="0.11" stroke-width="1.3"/>
<line x1="1832.8" y1="1834.71" x2="1869.0" y2="1834.71" stroke="#fff" stroke-opacity="0.11" stroke-width="1.3"/>
<line x1="1795.5" y1="1874.47" x2="1832.8" y2="1874.47" stroke="#fff" stroke-opacity="0.11" stroke-width="1.3"/>
<line x1="1832.8" y1="1874.26" x2="1869.0" y2="1874.26" stroke="#fff" stroke-opacity="0.11" stroke-width="1.3"/>
<line x1="1795.5" y1="1913.98" x2="1832.8" y2="1913.98" stroke="#fff" stroke-opacity="0.11" stroke-width="1.3"/>
<line x1="1832.8" y1="1913.81" x2="1869.0" y2="1913.81" stroke="#fff" stroke-opacity="0.11" stroke-width="1.3"/>
<line x1="1795.5" y1="1953.48" x2="1832.8" y2="1953.48" stroke="#fff" stroke-opacity="0.11" stroke-width="1.3"/>
<line x1="1832.8" y1="1953.36" x2="1869.0" y2="1953.36" stroke="#fff" stroke-opacity="0.11" stroke-width="1.3"/>
<line x1="1795.5" y1="1992.99" x2="1832.8" y2="1992.99" stroke="#fff" stroke-opacity="0.11" stroke-width="1.3"/>
<line x1="1832.8" y1="1992.90" x2="1869.0" y2="1992.90" stroke="#fff" stroke-opacity="0.11" stroke-width="1.3"/>
<line x1="1795.5" y1="2032.49" x2="1832.8" y2="2032.49" stroke="#fff" stroke-opacity="0.11" stroke-width="1.3"/>
<line x1="1832.8" y1="2032.45" x2="1869.0" y2="2032.45" stroke="#fff" stroke-opacity="0.11" stroke-width="1.3"/>
<line x1="1832.80" y1="96.7" x2="1832.80" y2="2072.0" stroke="#fff" stroke-opacity="0.1" stroke-width="1.2"/>
<text x="1770.2" y="122.0" font-size="21.15" font-weight="normal" text-anchor="end" fill="#3a3a3a" font-family="'DejaVu Sans', 'Liberation Sans', sans-serif" stroke="#3a3a3a" stroke-width="0.45">g__[Eubacterium]_coprostanoligenes_group</text>
<text x="1770.2" y="161.5" font-size="21.15" font-weight="normal" text-anchor="end" fill="#3a3a3a" font-family="'DejaVu Sans', 'Liberation Sans', sans-serif" stroke="#3a3a3a" stroke-width="0.45">g__NK4A214_group</text>
<text x="1770.2" y="201.1" font-size="21.15" font-weight="normal" text-anchor="end" fill="#3a3a3a" font-family="'DejaVu Sans', 'Liberation Sans', sans-serif" stroke="#3a3a3a" stroke-width="0.45">g__Chryseobacterium</text>
<text x="1770.2" y="240.6" font-size="21.15" font-weight="normal" text-anchor="end" fill="#3a3a3a" font-family="'DejaVu Sans', 'Liberation Sans', sans-serif" stroke="#3a3a3a" stroke-width="0.45">g__Parasutterella</text>
<text x="1770.2" y="280.2" font-size="21.15" font-weight="normal" text-anchor="end" fill="#3a3a3a" font-family="'DejaVu Sans', 'Liberation Sans', sans-serif" stroke="#3a3a3a" stroke-width="0.45">g__Rikenellaceae_RC9_gut_group</text>
<text x="1770.2" y="319.7" font-size="21.15" font-weight="normal" text-anchor="end" fill="#3a3a3a" font-family="'DejaVu Sans', 'Liberation Sans', sans-serif" stroke="#3a3a3a" stroke-width="0.45">g__Colidextribacter</text>
<text x="1770.2" y="359.3" font-size="21.15" font-weight="normal" text-anchor="end" fill="#3a3a3a" font-family="'DejaVu Sans', 'Liberation Sans', sans-serif" stroke="#3a3a3a" stroke-width="0.45">g__Oscillibacter</text>
<text x="1770.2" y="398.8" font-size="21.15" font-weight="normal" text-anchor="end" fill="#3a3a3a" font-family="'DejaVu Sans', 'Liberation Sans', sans-serif" stroke="#3a3a3a" stroke-width="0.45">g__Desulfovibrio</text>
<text x="1770.2" y="438.4" font-size="21.15" font-weight="normal" text-anchor="end" fill="#3a3a3a" font-family="'DejaVu Sans', 'Liberation Sans', sans-serif" stroke="#3a3a3a" stroke-width="0.45">g__Rikenella</text>
<text x="1770.2" y="477.9" font-size="21.15" font-weight="normal" text-anchor="end" fill="#3a3a3a" font-family="'DejaVu Sans', 'Liberation Sans', sans-serif" stroke="#3a3a3a" stroke-width="0.45">g__A2</text>
<text x="1770.2" y="517.5" font-size="21.15" font-weight="normal" text-anchor="end" fill="#3a3a3a" font-family="'DejaVu Sans', 'Liberation Sans', sans-serif" stroke="#3a3a3a" stroke-width="0.45">g__Gastranaerophilales</text>
<text x="1770.2" y="557.0" font-size="21.15" font-weight="normal" text-anchor="end" fill="#3a3a3a" font-family="'DejaVu Sans', 'Liberation Sans', sans-serif" stroke="#3a3a3a" stroke-width="0.45">g__uncultured</text>
<text x="1770.2" y="596.6" font-size="21.15" font-weight="normal" text-anchor="end" fill="#3a3a3a" font-family="'DejaVu Sans', 'Liberation Sans', sans-serif" stroke="#3a3a3a" stroke-width="0.45">g__Odoribacter</text>
<text x="1770.2" y="636.1" font-size="21.15" font-weight="normal" text-anchor="end" fill="#3a3a3a" font-family="'DejaVu Sans', 'Liberation Sans', sans-serif" stroke="#3a3a3a" stroke-width="0.45">g__Lactobacillus</text>
<text x="1770.2" y="675.6" font-size="21.15" font-weight="normal" text-anchor="end" fill="#3a3a3a" font-family="'DejaVu Sans', 'Liberation Sans', sans-serif" stroke="#3a3a3a" stroke-width="0.45">g__Muribaculaceae</text>
<text x="1770.2" y="715.2" font-size="21.15" font-weight="normal" text-anchor="end" fill="#3a3a3a" font-family="'DejaVu Sans', 'Liberation Sans', sans-serif" stroke="#3a3a3a" stroke-width="0.45">g__Lachnospiraceae_NK4A136_group</text>
<text x="1770.2" y="754.7" font-size="21.15" font-weight="normal" text-anchor="end" fill="#3a3a3a" font-family="'DejaVu Sans', 'Liberation Sans', sans-serif" stroke="#3a3a3a" stroke-width="0.45">g__Bacteroides</text>
<text x="1770.2" y="794.3" font-size="21.15" font-weight="normal" text-anchor="end" fill="#3a3a3a" font-family="'DejaVu Sans', 'Liberation Sans', sans-serif" stroke="#3a3a3a" stroke-width="0.45">g__Alistipes</text>
<text x="1770.2" y="833.8" font-size="21.15" font-weight="normal" text-anchor="end" fill="#3a3a3a" font-family="'DejaVu Sans', 'Liberation Sans', sans-serif" stroke="#3a3a3a" stroke-width="0.45">:f__Lachnospiraceae;__</text>
<text x="1770.2" y="873.4" font-size="21.15" font-weight="normal" text-anchor="end" fill="#3a3a3a" font-family="'DejaVu Sans', 'Liberation Sans', sans-serif" stroke="#3a3a3a" stroke-width="0.45">g__Muribaculum</text>
<text x="1770.2" y="912.9" font-size="21.15" font-weight="normal" text-anchor="end" fill="#3a3a3a" font-family="'DejaVu Sans', 'Liberation Sans', sans-serif" stroke="#3a3a3a" stroke-width="0.45">g__Helicobacter</text>
<text x="1770.2" y="952.5" font-size="21.15" font-weight="normal" text-anchor="end" fill="#3a3a3a" font-family="'DejaVu Sans', 'Liberation Sans', sans-serif" stroke="#3a3a3a" stroke-width="0.45">g__Clostridia_vadinBB60_group</text>
<text x="1770.2" y="992.0" font-size="21.15" font-weight="normal" text-anchor="end" fill="#3a3a3a" font-family="'DejaVu Sans', 'Liberation Sans', sans-serif" stroke="#3a3a3a" stroke-width="0.45">g__Prevotellaceae_UCG-001</text>
<text x="1770.2" y="1031.6" font-size="21.15" font-weight="normal" text-anchor="end" fill="#3a3a3a" font-family="'DejaVu Sans', 'Liberation Sans', sans-serif" stroke="#3a3a3a" stroke-width="0.45">g__Mucispirillum</text>
<text x="1770.2" y="1071.1" font-size="21.15" font-weight="normal" text-anchor="end" fill="#3a3a3a" font-family="'DejaVu Sans', 'Liberation Sans', sans-serif" stroke="#3a3a3a" stroke-width="0.45">f__Oscillospiraceae;__</text>
<text x="1770.2" y="1110.7" font-size="21.15" font-weight="normal" text-anchor="end" fill="#3a3a3a" font-family="'DejaVu Sans', 'Liberation Sans', sans-serif" stroke="#3a3a3a" stroke-width="0.45">g__Lachnoclostridium</text>
<text x="1770.2" y="1150.2" font-size="21.15" font-weight="normal" text-anchor="end" fill="#3a3a3a" font-family="'DejaVu Sans', 'Liberation Sans', sans-serif" stroke="#3a3a3a" stroke-width="0.45">g__Blautia</text>
<text x="1770.2" y="1189.8" font-size="21.15" font-weight="normal" text-anchor="end" fill="#3a3a3a" font-family="'DejaVu Sans', 'Liberation Sans', sans-serif" stroke="#3a3a3a" stroke-width="0.45">g__ASF356</text>
<text x="1770.2" y="1229.3" font-size="21.15" font-weight="normal" text-anchor="end" fill="#3a3a3a" font-family="'DejaVu Sans', 'Liberation Sans', sans-serif" stroke="#3a3a3a" stroke-width="0.45">g__Corynebacterium</text>
<text x="1770.2" y="1268.9" font-size="21.15" font-weight="normal" text-anchor="end" fill="#3a3a3a" font-family="'DejaVu Sans', 'Liberation Sans', sans-serif" stroke="#3a3a3a" stroke-width="0.45">g__Roseburia</text>
<text x="1770.2" y="1308.4" font-size="21.15" font-weight="normal" text-anchor="end" fill="#3a3a3a" font-family="'DejaVu Sans', 'Liberation Sans', sans-serif" stroke="#3a3a3a" stroke-width="0.45">g__Anaeroplasma</text>
<text x="1770.2" y="1348.0" font-size="21.15" font-weight="normal" text-anchor="end" fill="#3a3a3a" font-family="'DejaVu Sans', 'Liberation Sans', sans-serif" stroke="#3a3a3a" stroke-width="0.45">g__[Eubacterium]_xylanophilum_group</text>
<text x="1770.2" y="1387.5" font-size="21.15" font-weight="normal" text-anchor="end" fill="#3a3a3a" font-family="'DejaVu Sans', 'Liberation Sans', sans-serif" stroke="#3a3a3a" stroke-width="0.45">g__Butyricicoccus</text>
<text x="1770.2" y="1427.1" font-size="21.15" font-weight="normal" text-anchor="end" fill="#3a3a3a" font-family="'DejaVu Sans', 'Liberation Sans', sans-serif" stroke="#3a3a3a" stroke-width="0.45">g__Anaerotruncus</text>
<text x="1770.2" y="1466.6" font-size="21.15" font-weight="normal" text-anchor="end" fill="#3a3a3a" font-family="'DejaVu Sans', 'Liberation Sans', sans-serif" stroke="#3a3a3a" stroke-width="0.45">g__Incertae_Sedis</text>
<text x="1770.2" y="1506.2" font-size="21.15" font-weight="normal" text-anchor="end" fill="#3a3a3a" font-family="'DejaVu Sans', 'Liberation Sans', sans-serif" stroke="#3a3a3a" stroke-width="0.45">g__GCA-900066575</text>
<text x="1770.2" y="1545.7" font-size="21.15" font-weight="normal" text-anchor="end" fill="#3a3a3a" font-family="'DejaVu Sans', 'Liberation Sans', sans-serif" stroke="#3a3a3a" stroke-width="0.45">g__Bifidobacterium</text>
<text x="1770.2" y="1585.2" font-size="21.15" font-weight="normal" text-anchor="end" fill="#3a3a3a" font-family="'DejaVu Sans', 'Liberation Sans', sans-serif" stroke="#3a3a3a" stroke-width="0.45">g__uncultured</text>
<text x="1770.2" y="1624.8" font-size="21.15" font-weight="normal" text-anchor="end" fill="#3a3a3a" font-family="'DejaVu Sans', 'Liberation Sans', sans-serif" stroke="#3a3a3a" stroke-width="0.45">g__Bilophila</text>
<text x="1770.2" y="1664.3" font-size="21.15" font-weight="normal" text-anchor="end" fill="#3a3a3a" font-family="'DejaVu Sans', 'Liberation Sans', sans-serif" stroke="#3a3a3a" stroke-width="0.45">g__uncultured</text>
<text x="1770.2" y="1703.9" font-size="21.15" font-weight="normal" text-anchor="end" fill="#3a3a3a" font-family="'DejaVu Sans', 'Liberation Sans', sans-serif" stroke="#3a3a3a" stroke-width="0.45">g__uncultured</text>
<text x="1770.2" y="1743.4" font-size="21.15" font-weight="normal" text-anchor="end" fill="#3a3a3a" font-family="'DejaVu Sans', 'Liberation Sans', sans-serif" stroke="#3a3a3a" stroke-width="0.45">g__Alloprevotella</text>
<text x="1770.2" y="1783.0" font-size="21.15" font-weight="normal" text-anchor="end" fill="#3a3a3a" font-family="'DejaVu Sans', 'Liberation Sans', sans-serif" stroke="#3a3a3a" stroke-width="0.45">:g__Lachnospiraceae_UCG-001</text>
<text x="1770.2" y="1822.5" font-size="21.15" font-weight="normal" text-anchor="end" fill="#3a3a3a" font-family="'DejaVu Sans', 'Liberation Sans', sans-serif" stroke="#3a3a3a" stroke-width="0.45">g__Akkermansia</text>
<text x="1770.2" y="1862.1" font-size="21.15" font-weight="normal" text-anchor="end" fill="#3a3a3a" font-family="'DejaVu Sans', 'Liberation Sans', sans-serif" stroke="#3a3a3a" stroke-width="0.45">g__uncultured</text>
<text x="1770.2" y="1901.6" font-size="21.15" font-weight="normal" text-anchor="end" fill="#3a3a3a" font-family="'DejaVu Sans', 'Liberation Sans', sans-serif" stroke="#3a3a3a" stroke-width="0.45">o__Bacteroidales;__;__</text>
<text x="1770.2" y="1941.2" font-size="21.15" font-weight="normal" text-anchor="end" fill="#3a3a3a" font-family="'DejaVu Sans', 'Liberation Sans', sans-serif" stroke="#3a3a3a" stroke-width="0.45">g__Parabacteroides</text>
<text x="1770.2" y="1980.7" font-size="21.15" font-weight="normal" text-anchor="end" fill="#3a3a3a" font-family="'DejaVu Sans', 'Liberation Sans', sans-serif" stroke="#3a3a3a" stroke-width="0.45">g__Ureaplasma</text>
<text x="1770.2" y="2020.3" font-size="21.15" font-weight="normal" text-anchor="end" fill="#3a3a3a" font-family="'DejaVu Sans', 'Liberation Sans', sans-serif" stroke="#3a3a3a" stroke-width="0.45">g__[Eubacterium]_siraeum_group</text>
<text x="1770.2" y="2059.8" font-size="21.15" font-weight="normal" text-anchor="end" fill="#3a3a3a" font-family="'DejaVu Sans', 'Liberation Sans', sans-serif" stroke="#3a3a3a" stroke-width="0.45">g__Lachnospiraceae_FCS020_group</text>
<text transform="translate(1823.3 2188.5) rotate(-90)" font-size="22" font-family="'Liberation Sans', Arial, sans-serif" fill="#222">WT Day 0</text>
<text transform="translate(1860.2 2232.5) rotate(-90)" font-size="22" font-family="'Liberation Sans', Arial, sans-serif" fill="#222">AnxA1<tspan font-size="13" dy="-8">-/-</tspan><tspan dy="8"> Day 0</tspan></text>
<defs><linearGradient id="rk" x1="0" x2="1" y1="0" y2="0">
<stop offset="0.000" stop-color="#03051a"/>
<stop offset="0.025" stop-color="#0a091f"/>
<stop offset="0.050" stop-color="#130d25"/>
<stop offset="0.075" stop-color="#1d112c"/>
<stop offset="0.100" stop-color="#251433"/>
<stop offset="0.125" stop-color="#30173a"/>
<stop offset="0.150" stop-color="#381a40"/>
<stop offset="0.175" stop-color="#421b45"/>
<stop offset="0.200" stop-color="#4c1d4b"/>
<stop offset="0.225" stop-color="#561e4f"/>
<stop offset="0.250" stop-color="#611f53"/>
<stop offset="0.275" stop-color="#6b1f56"/>
<stop offset="0.300" stop-color="#751f58"/>
<stop offset="0.325" stop-color="#811e5a"/>
<stop offset="0.350" stop-color="#8b1d5b"/>
<stop offset="0.375" stop-color="#971c5b"/>
<stop offset="0.400" stop-color="#a11a5b"/>
<stop offset="0.425" stop-color="#ab185a"/>
<stop offset="0.450" stop-color="#b71657"/>
<stop offset="0.475" stop-color="#c11754"/>
<stop offset="0.500" stop-color="#cb1b4f"/>
<stop offset="0.525" stop-color="#d3214b"/>
<stop offset="0.550" stop-color="#db2946"/>
<stop offset="0.575" stop-color="#e23442"/>
<stop offset="0.600" stop-color="#e83f3f"/>
<stop offset="0.625" stop-color="#ec4c3e"/>
<stop offset="0.650" stop-color="#ef5840"/>
<stop offset="0.675" stop-color="#f16445"/>
<stop offset="0.700" stop-color="#f3714d"/>
<stop offset="0.725" stop-color="#f47c55"/>
<stop offset="0.750" stop-color="#f58860"/>
<stop offset="0.775" stop-color="#f59269"/>
<stop offset="0.800" stop-color="#f69c73"/>
<stop offset="0.825" stop-color="#f6a880"/>
<stop offset="0.850" stop-color="#f6b18b"/>
<stop offset="0.875" stop-color="#f6bc99"/>
<stop offset="0.900" stop-color="#f7c6a6"/>
<stop offset="0.925" stop-color="#f7cfb3"/>
<stop offset="0.950" stop-color="#f8d9c3"/>
<stop offset="0.975" stop-color="#f9e2d0"/>
<stop offset="1.000" stop-color="#faebdd"/>
</linearGradient></defs>
<rect x="1540.7" y="2298.6" width="263.8" height="72.1" fill="url(#rk)"/>
<line x1="1540.7" y1="2370.7" x2="1540.7" y2="2381.7" stroke="#444" stroke-width="2.2"/>
<text x="1541.9" y="2404.5" font-size="19.50" font-weight="normal" text-anchor="middle" fill="#222" font-family="'Liberation Sans', Arial, sans-serif">0</text>
<line x1="1587.7" y1="2370.7" x2="1587.7" y2="2381.7" stroke="#444" stroke-width="2.2"/>
<text x="1588.9" y="2404.5" font-size="19.50" font-weight="normal" text-anchor="middle" fill="#222" font-family="'Liberation Sans', Arial, sans-serif">1</text>
<line x1="1634.7" y1="2370.7" x2="1634.7" y2="2381.7" stroke="#444" stroke-width="2.2"/>
<text x="1635.9" y="2404.5" font-size="19.50" font-weight="normal" text-anchor="middle" fill="#222" font-family="'Liberation Sans', Arial, sans-serif">2</text>
<line x1="1681.7" y1="2370.7" x2="1681.7" y2="2381.7" stroke="#444" stroke-width="2.2"/>
<text x="1682.9" y="2404.5" font-size="19.50" font-weight="normal" text-anchor="middle" fill="#222" font-family="'Liberation Sans', Arial, sans-serif">3</text>
<line x1="1728.7" y1="2370.7" x2="1728.7" y2="2381.7" stroke="#444" stroke-width="2.2"/>
<text x="1729.9" y="2404.5" font-size="19.50" font-weight="normal" text-anchor="middle" fill="#222" font-family="'Liberation Sans', Arial, sans-serif">4</text>
<line x1="1775.7" y1="2370.7" x2="1775.7" y2="2381.7" stroke="#444" stroke-width="2.2"/>
<text x="1776.9" y="2404.5" font-size="19.50" font-weight="normal" text-anchor="middle" fill="#222" font-family="'Liberation Sans', Arial, sans-serif">5</text>
<text x="1666.7" y="2431.2" font-size="20.00" font-weight="normal" text-anchor="middle" fill="#222" font-family="'Liberation Sans', Arial, sans-serif" textLength="144.4" lengthAdjust="spacingAndGlyphs">log10 frequency</text>
<path d="M1871.0 156.0 H1890.7 V195.5 H1871.0 M1871.0 116.5 H1906.8 V175.7 H1890.7 M1871.0 2012.7 H1889.6 V2052.2 H1871.0 M1871.0 1973.2 H1907.4 V2032.5 H1889.6 M1871.0 235.0 H1873.4 V274.5 H1871.0 M1871.0 314.0 H1873.4 V353.5 H1871.0 M1873.4 254.7 H1877.5 V333.7 H1873.4 M1871.0 393.0 H1873.1 V432.5 H1871.0 M1873.1 412.7 H1874.2 V472.0 H1871.0 M1871.0 511.5 H1873.4 V551.0 H1871.0 M1874.2 442.4 H1876.0 V531.3 H1873.4 M1877.5 294.2 H1880.3 V486.8 H1876.0 M1871.0 590.5 H1878.5 V630.0 H1871.0 M1880.3 390.5 H1881.5 V610.3 H1878.5 M1871.0 669.5 H1873.4 V709.0 H1871.0 M1871.0 748.5 H1873.3 V788.1 H1871.0 M1873.3 768.3 H1874.6 V827.6 H1871.0 M1871.0 867.1 H1873.3 V906.6 H1871.0 M1873.3 886.8 H1874.6 V946.1 H1871.0 M1874.6 797.9 H1876.5 V916.4 H1874.6 M1871.0 985.6 H1877.3 V1025.1 H1871.0 M1876.5 857.2 H1877.9 V1005.3 H1877.3 M1873.4 689.3 H1885.3 V931.3 H1877.9 M1881.5 500.4 H1889.0 V810.3 H1885.3 M1871.0 1104.1 H1873.3 V1143.6 H1871.0 M1873.3 1123.9 H1874.6 V1183.1 H1871.0 M1871.0 1222.6 H1873.3 V1262.1 H1871.0 M1873.3 1242.4 H1874.6 V1301.6 H1871.0 M1874.6 1153.5 H1878.2 V1272.0 H1874.6 M1871.0 1341.1 H1873.3 V1380.6 H1871.0 M1873.3 1360.9 H1874.6 V1420.2 H1871.0 M1871.0 1459.7 H1873.3 V1499.2 H1871.0 M1873.3 1479.4 H1874.6 V1538.7 H1871.0 M1874.6 1390.5 H1878.2 V1509.0 H1874.6 M1878.2 1212.7 H1884.0 V1449.8 H1878.2 M1871.0 1064.6 H1888.0 V1331.3 H1884.0 M1871.0 1578.2 H1873.4 V1617.7 H1871.0 M1873.4 1597.9 H1878.0 V1657.2 H1871.0 M1871.0 1696.7 H1873.4 V1736.2 H1871.0 M1873.4 1716.4 H1885.0 V1775.7 H1871.0 M1871.0 1815.2 H1873.4 V1854.7 H1871.0 M1871.0 1894.2 H1873.4 V1933.7 H1871.0 M1873.4 1835.0 H1882.0 V1914.0 H1873.4 M1885.0 1746.1 H1887.0 V1874.5 H1882.0 M1878.0 1627.6 H1889.5 V1810.3 H1887.0 M1888.0 1197.9 H1895.6 V1718.9 H1889.5 M1889.0 655.3 H1896.9 V1458.4 H1895.6 M1896.9 1056.9 H1913.6 V2002.9 H1907.4 M1906.8 146.1 H1921.3 V1529.9 H1913.6" fill="none" stroke="#8a8a8a" stroke-width="1.8"/>
</svg></body></html>
